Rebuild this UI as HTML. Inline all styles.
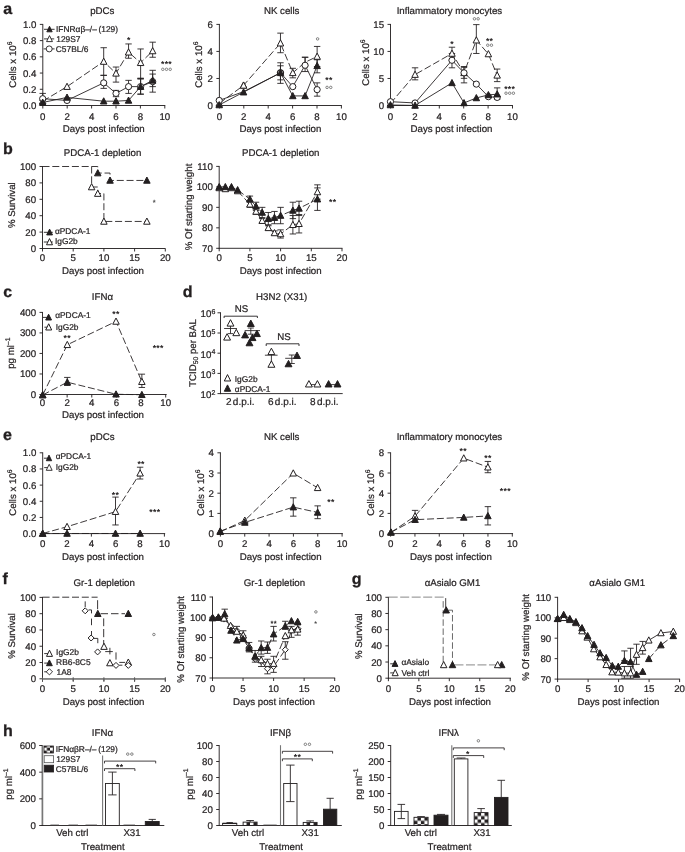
<!DOCTYPE html>
<html><head><meta charset="utf-8"><title>Figure</title>
<style>
html,body{margin:0;padding:0;background:#fff;}
svg{display:block;font-family:"Liberation Sans",sans-serif;text-rendering:geometricPrecision;will-change:transform;}
</style></head>
<body>
<svg width="685" height="852" viewBox="0 0 685 852">
<rect width="685" height="852" fill="#fff"/>
<text x="3.20" y="14.00" font-size="16" text-anchor="start" font-weight="bold" fill="#231f20" stroke="#231f20" stroke-width="0.3">a</text>
<text x="3.00" y="153.80" font-size="16" text-anchor="start" font-weight="bold" fill="#231f20" stroke="#231f20" stroke-width="0.3">b</text>
<text x="3.25" y="296.90" font-size="16" text-anchor="start" font-weight="bold" fill="#231f20" stroke="#231f20" stroke-width="0.3">c</text>
<text x="182.80" y="297.20" font-size="16" text-anchor="start" font-weight="bold" fill="#231f20" stroke="#231f20" stroke-width="0.3">d</text>
<text x="3.10" y="439.90" font-size="16" text-anchor="start" font-weight="bold" fill="#231f20" stroke="#231f20" stroke-width="0.3">e</text>
<text x="2.60" y="583.80" font-size="16" text-anchor="start" font-weight="bold" fill="#231f20" stroke="#231f20" stroke-width="0.3">f</text>
<text x="351.80" y="583.80" font-size="16" text-anchor="start" font-weight="bold" fill="#231f20" stroke="#231f20" stroke-width="0.3">g</text>
<text x="2.90" y="735.80" font-size="16" text-anchor="start" font-weight="bold" fill="#231f20" stroke="#231f20" stroke-width="0.3">h</text>
<line x1="42.80" y1="23.95" x2="42.80" y2="105.95" stroke="#231f20" stroke-width="0.92" stroke-linecap="butt"/>
<line x1="42.35" y1="105.50" x2="165.25" y2="105.50" stroke="#231f20" stroke-width="0.92" stroke-linecap="butt"/>
<line x1="42.80" y1="105.50" x2="42.80" y2="108.50" stroke="#231f20" stroke-width="0.92" stroke-linecap="butt"/>
<text x="42.80" y="119.50" font-size="9.7" text-anchor="middle" font-weight="normal" fill="#231f20" stroke="#231f20" stroke-width="0.22">0</text>
<line x1="67.20" y1="105.50" x2="67.20" y2="108.50" stroke="#231f20" stroke-width="0.92" stroke-linecap="butt"/>
<text x="67.20" y="119.50" font-size="9.7" text-anchor="middle" font-weight="normal" fill="#231f20" stroke="#231f20" stroke-width="0.22">2</text>
<line x1="91.60" y1="105.50" x2="91.60" y2="108.50" stroke="#231f20" stroke-width="0.92" stroke-linecap="butt"/>
<text x="91.60" y="119.50" font-size="9.7" text-anchor="middle" font-weight="normal" fill="#231f20" stroke="#231f20" stroke-width="0.22">4</text>
<line x1="116.00" y1="105.50" x2="116.00" y2="108.50" stroke="#231f20" stroke-width="0.92" stroke-linecap="butt"/>
<text x="116.00" y="119.50" font-size="9.7" text-anchor="middle" font-weight="normal" fill="#231f20" stroke="#231f20" stroke-width="0.22">6</text>
<line x1="140.40" y1="105.50" x2="140.40" y2="108.50" stroke="#231f20" stroke-width="0.92" stroke-linecap="butt"/>
<text x="140.40" y="119.50" font-size="9.7" text-anchor="middle" font-weight="normal" fill="#231f20" stroke="#231f20" stroke-width="0.22">8</text>
<line x1="164.80" y1="105.50" x2="164.80" y2="108.50" stroke="#231f20" stroke-width="0.92" stroke-linecap="butt"/>
<text x="164.80" y="119.50" font-size="9.7" text-anchor="middle" font-weight="normal" fill="#231f20" stroke="#231f20" stroke-width="0.22">10</text>
<line x1="39.80" y1="105.50" x2="42.80" y2="105.50" stroke="#231f20" stroke-width="0.92" stroke-linecap="butt"/>
<text x="36.40" y="109.00" font-size="9.7" text-anchor="end" font-weight="normal" fill="#231f20" stroke="#231f20" stroke-width="0.22">0.0</text>
<line x1="39.80" y1="89.28" x2="42.80" y2="89.28" stroke="#231f20" stroke-width="0.92" stroke-linecap="butt"/>
<text x="36.40" y="92.78" font-size="9.7" text-anchor="end" font-weight="normal" fill="#231f20" stroke="#231f20" stroke-width="0.22">0.2</text>
<line x1="39.80" y1="73.06" x2="42.80" y2="73.06" stroke="#231f20" stroke-width="0.92" stroke-linecap="butt"/>
<text x="36.40" y="76.56" font-size="9.7" text-anchor="end" font-weight="normal" fill="#231f20" stroke="#231f20" stroke-width="0.22">0.4</text>
<line x1="39.80" y1="56.84" x2="42.80" y2="56.84" stroke="#231f20" stroke-width="0.92" stroke-linecap="butt"/>
<text x="36.40" y="60.34" font-size="9.7" text-anchor="end" font-weight="normal" fill="#231f20" stroke="#231f20" stroke-width="0.22">0.6</text>
<line x1="39.80" y1="40.62" x2="42.80" y2="40.62" stroke="#231f20" stroke-width="0.92" stroke-linecap="butt"/>
<text x="36.40" y="44.12" font-size="9.7" text-anchor="end" font-weight="normal" fill="#231f20" stroke="#231f20" stroke-width="0.22">0.8</text>
<line x1="39.80" y1="24.40" x2="42.80" y2="24.40" stroke="#231f20" stroke-width="0.92" stroke-linecap="butt"/>
<text x="36.40" y="27.90" font-size="9.7" text-anchor="end" font-weight="normal" fill="#231f20" stroke="#231f20" stroke-width="0.22">1.0</text>
<text x="102.30" y="14.00" font-size="9.7" text-anchor="middle" font-weight="normal" fill="#231f20" stroke="#231f20" stroke-width="0.22">pDCs</text>
<text x="103.80" y="132.10" font-size="9.7" text-anchor="middle" font-weight="normal" fill="#231f20" stroke="#231f20" stroke-width="0.22">Days post infection</text>
<text x="16.20" y="64.70" font-size="9.7" text-anchor="middle" font-weight="normal" fill="#231f20" stroke="#231f20" stroke-width="0.22" transform="rotate(-90 16.20 64.70)">Cells x 10<tspan font-size="6.8" dy="-3.8">6</tspan></text>
<polyline points="42.69,101.19 67.04,86.63 103.70,61.52 116.01,73.32 128.56,52.23 140.61,62.77 152.67,50.97" fill="none" stroke="#231f20" stroke-width="0.88" stroke-dasharray="7 2.8"/>
<polyline points="42.69,98.68 67.04,100.44 103.70,82.86 116.01,93.41 128.56,86.63 140.61,86.63 152.67,81.61" fill="none" stroke="#231f20" stroke-width="0.88"/>
<polyline points="42.69,102.45 67.04,97.42 103.70,101.19 116.01,101.19 128.56,100.44 140.61,86.63 152.67,80.35" fill="none" stroke="#231f20" stroke-width="0.88"/>
<line x1="103.70" y1="47.71" x2="103.70" y2="75.33" stroke="#231f20" stroke-width="0.88" stroke-linecap="butt"/>
<line x1="100.50" y1="47.71" x2="106.90" y2="47.71" stroke="#231f20" stroke-width="0.88" stroke-linecap="butt"/>
<line x1="100.50" y1="75.33" x2="106.90" y2="75.33" stroke="#231f20" stroke-width="0.88" stroke-linecap="butt"/>
<line x1="116.01" y1="67.04" x2="116.01" y2="82.11" stroke="#231f20" stroke-width="0.88" stroke-linecap="butt"/>
<line x1="112.81" y1="67.04" x2="119.21" y2="67.04" stroke="#231f20" stroke-width="0.88" stroke-linecap="butt"/>
<line x1="112.81" y1="82.11" x2="119.21" y2="82.11" stroke="#231f20" stroke-width="0.88" stroke-linecap="butt"/>
<line x1="128.56" y1="43.94" x2="128.56" y2="58.25" stroke="#231f20" stroke-width="0.88" stroke-linecap="butt"/>
<line x1="125.36" y1="43.94" x2="131.76" y2="43.94" stroke="#231f20" stroke-width="0.88" stroke-linecap="butt"/>
<line x1="125.36" y1="58.25" x2="131.76" y2="58.25" stroke="#231f20" stroke-width="0.88" stroke-linecap="butt"/>
<line x1="140.61" y1="48.96" x2="140.61" y2="79.09" stroke="#231f20" stroke-width="0.88" stroke-linecap="butt"/>
<line x1="137.41" y1="48.96" x2="143.81" y2="48.96" stroke="#231f20" stroke-width="0.88" stroke-linecap="butt"/>
<line x1="137.41" y1="79.09" x2="143.81" y2="79.09" stroke="#231f20" stroke-width="0.88" stroke-linecap="butt"/>
<line x1="152.67" y1="42.18" x2="152.67" y2="57.25" stroke="#231f20" stroke-width="0.88" stroke-linecap="butt"/>
<line x1="149.47" y1="42.18" x2="155.87" y2="42.18" stroke="#231f20" stroke-width="0.88" stroke-linecap="butt"/>
<line x1="149.47" y1="57.25" x2="155.87" y2="57.25" stroke="#231f20" stroke-width="0.88" stroke-linecap="butt"/>
<line x1="42.69" y1="93.41" x2="42.69" y2="100.44" stroke="#231f20" stroke-width="0.88" stroke-linecap="butt"/>
<line x1="39.49" y1="93.41" x2="45.89" y2="93.41" stroke="#231f20" stroke-width="0.88" stroke-linecap="butt"/>
<line x1="39.49" y1="100.44" x2="45.89" y2="100.44" stroke="#231f20" stroke-width="0.88" stroke-linecap="butt"/>
<line x1="103.70" y1="75.33" x2="103.70" y2="88.39" stroke="#231f20" stroke-width="0.88" stroke-linecap="butt"/>
<line x1="100.50" y1="75.33" x2="106.90" y2="75.33" stroke="#231f20" stroke-width="0.88" stroke-linecap="butt"/>
<line x1="100.50" y1="88.39" x2="106.90" y2="88.39" stroke="#231f20" stroke-width="0.88" stroke-linecap="butt"/>
<line x1="116.01" y1="90.39" x2="116.01" y2="96.67" stroke="#231f20" stroke-width="0.88" stroke-linecap="butt"/>
<line x1="112.81" y1="90.39" x2="119.21" y2="90.39" stroke="#231f20" stroke-width="0.88" stroke-linecap="butt"/>
<line x1="112.81" y1="96.67" x2="119.21" y2="96.67" stroke="#231f20" stroke-width="0.88" stroke-linecap="butt"/>
<line x1="128.56" y1="80.35" x2="128.56" y2="93.41" stroke="#231f20" stroke-width="0.88" stroke-linecap="butt"/>
<line x1="125.36" y1="80.35" x2="131.76" y2="80.35" stroke="#231f20" stroke-width="0.88" stroke-linecap="butt"/>
<line x1="125.36" y1="93.41" x2="131.76" y2="93.41" stroke="#231f20" stroke-width="0.88" stroke-linecap="butt"/>
<line x1="140.61" y1="78.34" x2="140.61" y2="94.16" stroke="#231f20" stroke-width="0.88" stroke-linecap="butt"/>
<line x1="137.41" y1="78.34" x2="143.81" y2="78.34" stroke="#231f20" stroke-width="0.88" stroke-linecap="butt"/>
<line x1="137.41" y1="94.16" x2="143.81" y2="94.16" stroke="#231f20" stroke-width="0.88" stroke-linecap="butt"/>
<line x1="152.67" y1="70.31" x2="152.67" y2="92.15" stroke="#231f20" stroke-width="0.88" stroke-linecap="butt"/>
<line x1="149.47" y1="70.31" x2="155.87" y2="70.31" stroke="#231f20" stroke-width="0.88" stroke-linecap="butt"/>
<line x1="149.47" y1="92.15" x2="155.87" y2="92.15" stroke="#231f20" stroke-width="0.88" stroke-linecap="butt"/>
<line x1="140.61" y1="78.34" x2="140.61" y2="94.16" stroke="#231f20" stroke-width="0.88" stroke-linecap="butt"/>
<line x1="137.41" y1="78.34" x2="143.81" y2="78.34" stroke="#231f20" stroke-width="0.88" stroke-linecap="butt"/>
<line x1="137.41" y1="94.16" x2="143.81" y2="94.16" stroke="#231f20" stroke-width="0.88" stroke-linecap="butt"/>
<line x1="152.67" y1="74.07" x2="152.67" y2="86.63" stroke="#231f20" stroke-width="0.88" stroke-linecap="butt"/>
<line x1="149.47" y1="74.07" x2="155.87" y2="74.07" stroke="#231f20" stroke-width="0.88" stroke-linecap="butt"/>
<line x1="149.47" y1="86.63" x2="155.87" y2="86.63" stroke="#231f20" stroke-width="0.88" stroke-linecap="butt"/>
<polygon points="42.69,97.78 45.94,103.98 39.44,103.98" fill="#fff" stroke="#231f20" stroke-width="1.0" stroke-linejoin="miter"/>
<polygon points="67.04,83.22 70.29,89.42 63.79,89.42" fill="#fff" stroke="#231f20" stroke-width="1.0" stroke-linejoin="miter"/>
<polygon points="103.70,58.11 106.95,64.31 100.45,64.31" fill="#fff" stroke="#231f20" stroke-width="1.0" stroke-linejoin="miter"/>
<polygon points="116.01,69.91 119.26,76.11 112.76,76.11" fill="#fff" stroke="#231f20" stroke-width="1.0" stroke-linejoin="miter"/>
<polygon points="128.56,48.82 131.81,55.02 125.31,55.02" fill="#fff" stroke="#231f20" stroke-width="1.0" stroke-linejoin="miter"/>
<polygon points="140.61,59.36 143.86,65.56 137.36,65.56" fill="#fff" stroke="#231f20" stroke-width="1.0" stroke-linejoin="miter"/>
<polygon points="152.67,47.56 155.92,53.76 149.42,53.76" fill="#fff" stroke="#231f20" stroke-width="1.0" stroke-linejoin="miter"/>
<circle cx="42.69" cy="98.68" r="3.1" fill="#fff" stroke="#231f20" stroke-width="1.0"/>
<circle cx="67.04" cy="100.44" r="3.1" fill="#fff" stroke="#231f20" stroke-width="1.0"/>
<circle cx="103.70" cy="82.86" r="3.1" fill="#fff" stroke="#231f20" stroke-width="1.0"/>
<circle cx="116.01" cy="93.41" r="3.1" fill="#fff" stroke="#231f20" stroke-width="1.0"/>
<circle cx="128.56" cy="86.63" r="3.1" fill="#fff" stroke="#231f20" stroke-width="1.0"/>
<circle cx="140.61" cy="86.63" r="3.1" fill="#fff" stroke="#231f20" stroke-width="1.0"/>
<circle cx="152.67" cy="81.61" r="3.1" fill="#fff" stroke="#231f20" stroke-width="1.0"/>
<polygon points="42.69,99.04 45.94,105.24 39.44,105.24" fill="#231f20" stroke="#231f20" stroke-width="1.0" stroke-linejoin="miter"/>
<polygon points="67.04,94.01 70.29,100.21 63.79,100.21" fill="#231f20" stroke="#231f20" stroke-width="1.0" stroke-linejoin="miter"/>
<polygon points="103.70,97.78 106.95,103.98 100.45,103.98" fill="#231f20" stroke="#231f20" stroke-width="1.0" stroke-linejoin="miter"/>
<polygon points="116.01,97.78 119.26,103.98 112.76,103.98" fill="#231f20" stroke="#231f20" stroke-width="1.0" stroke-linejoin="miter"/>
<polygon points="128.56,97.03 131.81,103.23 125.31,103.23" fill="#231f20" stroke="#231f20" stroke-width="1.0" stroke-linejoin="miter"/>
<polygon points="140.61,83.22 143.86,89.42 137.36,89.42" fill="#231f20" stroke="#231f20" stroke-width="1.0" stroke-linejoin="miter"/>
<polygon points="152.67,76.94 155.92,83.14 149.42,83.14" fill="#231f20" stroke="#231f20" stroke-width="1.0" stroke-linejoin="miter"/>
<line x1="44.00" y1="29.30" x2="54.60" y2="29.30" stroke="#231f20" stroke-width="0.9" stroke-linecap="butt"/>
<polygon points="49.50,26.22 52.20,31.82 46.80,31.82" fill="#231f20" stroke="#231f20" stroke-width="0.9" stroke-linejoin="miter"/>
<text x="56.00" y="32.40" font-size="8.4" text-anchor="start" font-weight="normal" fill="#231f20" stroke="#231f20" stroke-width="0.22">IFNRαβ–/– (129)</text>
<line x1="44.00" y1="38.90" x2="54.20" y2="38.90" stroke="#231f20" stroke-width="0.9" stroke-linecap="butt"/>
<polygon points="49.50,35.60 52.45,41.60 46.55,41.60" fill="#fff" stroke="#231f20" stroke-width="0.9" stroke-linejoin="miter"/>
<text x="56.30" y="42.00" font-size="8.4" text-anchor="start" font-weight="normal" fill="#231f20" stroke="#231f20" stroke-width="0.22">129S7</text>
<line x1="43.60" y1="48.90" x2="54.60" y2="48.90" stroke="#231f20" stroke-width="0.9" stroke-linecap="butt"/>
<circle cx="49.20" cy="48.90" r="3.0" fill="#fff" stroke="#231f20" stroke-width="0.9"/>
<text x="55.80" y="52.00" font-size="8.4" text-anchor="start" font-weight="normal" fill="#231f20" stroke="#231f20" stroke-width="0.22">C57BL/6</text>
<text x="128.80" y="43.23" font-size="8.6" text-anchor="middle" font-weight="bold" fill="#231f20" letter-spacing="0.35">*</text>
<text x="166.50" y="66.73" font-size="8.6" text-anchor="middle" font-weight="bold" fill="#231f20" letter-spacing="0.35">***</text>
<circle cx="162.80" cy="69.30" r="1.25" fill="none" stroke="#666" stroke-width="0.8"/>
<circle cx="166.50" cy="69.30" r="1.25" fill="none" stroke="#666" stroke-width="0.8"/>
<circle cx="170.20" cy="69.30" r="1.25" fill="none" stroke="#666" stroke-width="0.8"/>
<line x1="219.40" y1="23.95" x2="219.40" y2="105.95" stroke="#231f20" stroke-width="0.92" stroke-linecap="butt"/>
<line x1="218.95" y1="105.50" x2="341.85" y2="105.50" stroke="#231f20" stroke-width="0.92" stroke-linecap="butt"/>
<line x1="219.40" y1="105.50" x2="219.40" y2="108.50" stroke="#231f20" stroke-width="0.92" stroke-linecap="butt"/>
<text x="219.40" y="119.50" font-size="9.7" text-anchor="middle" font-weight="normal" fill="#231f20" stroke="#231f20" stroke-width="0.22">0</text>
<line x1="243.80" y1="105.50" x2="243.80" y2="108.50" stroke="#231f20" stroke-width="0.92" stroke-linecap="butt"/>
<text x="243.80" y="119.50" font-size="9.7" text-anchor="middle" font-weight="normal" fill="#231f20" stroke="#231f20" stroke-width="0.22">2</text>
<line x1="268.20" y1="105.50" x2="268.20" y2="108.50" stroke="#231f20" stroke-width="0.92" stroke-linecap="butt"/>
<text x="268.20" y="119.50" font-size="9.7" text-anchor="middle" font-weight="normal" fill="#231f20" stroke="#231f20" stroke-width="0.22">4</text>
<line x1="292.60" y1="105.50" x2="292.60" y2="108.50" stroke="#231f20" stroke-width="0.92" stroke-linecap="butt"/>
<text x="292.60" y="119.50" font-size="9.7" text-anchor="middle" font-weight="normal" fill="#231f20" stroke="#231f20" stroke-width="0.22">6</text>
<line x1="317.00" y1="105.50" x2="317.00" y2="108.50" stroke="#231f20" stroke-width="0.92" stroke-linecap="butt"/>
<text x="317.00" y="119.50" font-size="9.7" text-anchor="middle" font-weight="normal" fill="#231f20" stroke="#231f20" stroke-width="0.22">8</text>
<line x1="341.40" y1="105.50" x2="341.40" y2="108.50" stroke="#231f20" stroke-width="0.92" stroke-linecap="butt"/>
<text x="341.40" y="119.50" font-size="9.7" text-anchor="middle" font-weight="normal" fill="#231f20" stroke="#231f20" stroke-width="0.22">10</text>
<line x1="216.40" y1="105.50" x2="219.40" y2="105.50" stroke="#231f20" stroke-width="0.92" stroke-linecap="butt"/>
<text x="213.00" y="109.00" font-size="9.7" text-anchor="end" font-weight="normal" fill="#231f20" stroke="#231f20" stroke-width="0.22">0</text>
<line x1="216.40" y1="78.47" x2="219.40" y2="78.47" stroke="#231f20" stroke-width="0.92" stroke-linecap="butt"/>
<text x="213.00" y="81.97" font-size="9.7" text-anchor="end" font-weight="normal" fill="#231f20" stroke="#231f20" stroke-width="0.22">2</text>
<line x1="216.40" y1="51.43" x2="219.40" y2="51.43" stroke="#231f20" stroke-width="0.92" stroke-linecap="butt"/>
<text x="213.00" y="54.93" font-size="9.7" text-anchor="end" font-weight="normal" fill="#231f20" stroke="#231f20" stroke-width="0.22">4</text>
<line x1="216.40" y1="24.40" x2="219.40" y2="24.40" stroke="#231f20" stroke-width="0.92" stroke-linecap="butt"/>
<text x="213.00" y="27.90" font-size="9.7" text-anchor="end" font-weight="normal" fill="#231f20" stroke="#231f20" stroke-width="0.22">6</text>
<text x="281.70" y="14.00" font-size="9.7" text-anchor="middle" font-weight="normal" fill="#231f20" stroke="#231f20" stroke-width="0.22">NK cells</text>
<text x="280.40" y="132.10" font-size="9.7" text-anchor="middle" font-weight="normal" fill="#231f20" stroke="#231f20" stroke-width="0.22">Days post infection</text>
<text x="201.70" y="64.70" font-size="9.7" text-anchor="middle" font-weight="normal" fill="#231f20" stroke="#231f20" stroke-width="0.22" transform="rotate(-90 201.70 64.70)">Cells x 10<tspan font-size="6.8" dy="-3.8">6</tspan></text>
<polyline points="219.21,103.45 243.56,85.37 280.47,43.19 292.78,72.82 305.08,62.27 317.13,56.50" fill="none" stroke="#231f20" stroke-width="0.88" stroke-dasharray="7 2.8"/>
<polyline points="219.21,100.44 243.56,91.65 280.47,72.82 292.78,86.63 305.08,65.28 317.13,89.64" fill="none" stroke="#231f20" stroke-width="0.88"/>
<polyline points="219.21,104.96 243.56,92.15 280.47,72.82 292.78,95.92 305.08,95.92 317.13,65.79" fill="none" stroke="#231f20" stroke-width="0.88"/>
<line x1="280.47" y1="33.14" x2="280.47" y2="52.73" stroke="#231f20" stroke-width="0.88" stroke-linecap="butt"/>
<line x1="277.27" y1="33.14" x2="283.67" y2="33.14" stroke="#231f20" stroke-width="0.88" stroke-linecap="butt"/>
<line x1="277.27" y1="52.73" x2="283.67" y2="52.73" stroke="#231f20" stroke-width="0.88" stroke-linecap="butt"/>
<line x1="292.78" y1="68.30" x2="292.78" y2="77.84" stroke="#231f20" stroke-width="0.88" stroke-linecap="butt"/>
<line x1="289.58" y1="68.30" x2="295.98" y2="68.30" stroke="#231f20" stroke-width="0.88" stroke-linecap="butt"/>
<line x1="289.58" y1="77.84" x2="295.98" y2="77.84" stroke="#231f20" stroke-width="0.88" stroke-linecap="butt"/>
<line x1="305.08" y1="57.25" x2="305.08" y2="65.79" stroke="#231f20" stroke-width="0.88" stroke-linecap="butt"/>
<line x1="301.88" y1="57.25" x2="308.28" y2="57.25" stroke="#231f20" stroke-width="0.88" stroke-linecap="butt"/>
<line x1="301.88" y1="65.79" x2="308.28" y2="65.79" stroke="#231f20" stroke-width="0.88" stroke-linecap="butt"/>
<line x1="317.13" y1="46.45" x2="317.13" y2="66.54" stroke="#231f20" stroke-width="0.88" stroke-linecap="butt"/>
<line x1="313.93" y1="46.45" x2="320.33" y2="46.45" stroke="#231f20" stroke-width="0.88" stroke-linecap="butt"/>
<line x1="313.93" y1="66.54" x2="320.33" y2="66.54" stroke="#231f20" stroke-width="0.88" stroke-linecap="butt"/>
<line x1="280.47" y1="62.77" x2="280.47" y2="83.36" stroke="#231f20" stroke-width="0.88" stroke-linecap="butt"/>
<line x1="277.27" y1="62.77" x2="283.67" y2="62.77" stroke="#231f20" stroke-width="0.88" stroke-linecap="butt"/>
<line x1="277.27" y1="83.36" x2="283.67" y2="83.36" stroke="#231f20" stroke-width="0.88" stroke-linecap="butt"/>
<line x1="305.08" y1="57.25" x2="305.08" y2="71.56" stroke="#231f20" stroke-width="0.88" stroke-linecap="butt"/>
<line x1="301.88" y1="57.25" x2="308.28" y2="57.25" stroke="#231f20" stroke-width="0.88" stroke-linecap="butt"/>
<line x1="301.88" y1="71.56" x2="308.28" y2="71.56" stroke="#231f20" stroke-width="0.88" stroke-linecap="butt"/>
<line x1="317.13" y1="82.86" x2="317.13" y2="96.17" stroke="#231f20" stroke-width="0.88" stroke-linecap="butt"/>
<line x1="313.93" y1="82.86" x2="320.33" y2="82.86" stroke="#231f20" stroke-width="0.88" stroke-linecap="butt"/>
<line x1="313.93" y1="96.17" x2="320.33" y2="96.17" stroke="#231f20" stroke-width="0.88" stroke-linecap="butt"/>
<line x1="280.47" y1="65.79" x2="280.47" y2="79.85" stroke="#231f20" stroke-width="0.88" stroke-linecap="butt"/>
<line x1="277.27" y1="65.79" x2="283.67" y2="65.79" stroke="#231f20" stroke-width="0.88" stroke-linecap="butt"/>
<line x1="277.27" y1="79.85" x2="283.67" y2="79.85" stroke="#231f20" stroke-width="0.88" stroke-linecap="butt"/>
<line x1="317.13" y1="59.76" x2="317.13" y2="72.82" stroke="#231f20" stroke-width="0.88" stroke-linecap="butt"/>
<line x1="313.93" y1="59.76" x2="320.33" y2="59.76" stroke="#231f20" stroke-width="0.88" stroke-linecap="butt"/>
<line x1="313.93" y1="72.82" x2="320.33" y2="72.82" stroke="#231f20" stroke-width="0.88" stroke-linecap="butt"/>
<polygon points="219.21,100.04 222.46,106.24 215.96,106.24" fill="#fff" stroke="#231f20" stroke-width="1.0" stroke-linejoin="miter"/>
<polygon points="243.56,81.96 246.81,88.16 240.31,88.16" fill="#fff" stroke="#231f20" stroke-width="1.0" stroke-linejoin="miter"/>
<polygon points="280.47,39.78 283.72,45.98 277.22,45.98" fill="#fff" stroke="#231f20" stroke-width="1.0" stroke-linejoin="miter"/>
<polygon points="292.78,69.41 296.03,75.61 289.53,75.61" fill="#fff" stroke="#231f20" stroke-width="1.0" stroke-linejoin="miter"/>
<polygon points="317.13,53.09 320.38,59.29 313.88,59.29" fill="#fff" stroke="#231f20" stroke-width="1.0" stroke-linejoin="miter"/>
<circle cx="219.21" cy="100.44" r="3.1" fill="#fff" stroke="#231f20" stroke-width="1.0"/>
<circle cx="280.47" cy="72.82" r="3.1" fill="#fff" stroke="#231f20" stroke-width="1.0"/>
<circle cx="292.78" cy="86.63" r="3.1" fill="#fff" stroke="#231f20" stroke-width="1.0"/>
<circle cx="305.08" cy="65.28" r="3.1" fill="#fff" stroke="#231f20" stroke-width="1.0"/>
<circle cx="317.13" cy="89.64" r="3.1" fill="#fff" stroke="#231f20" stroke-width="1.0"/>
<polygon points="243.56,88.74 246.81,94.94 240.31,94.94" fill="#231f20" stroke="#231f20" stroke-width="1.0" stroke-linejoin="miter"/>
<polygon points="243.56,81.96 246.81,88.16 240.31,88.16" fill="#fff" stroke="#231f20" stroke-width="1.0" stroke-linejoin="miter"/>
<polygon points="219.21,101.55 222.46,107.75 215.96,107.75" fill="#231f20" stroke="#231f20" stroke-width="1.0" stroke-linejoin="miter"/>
<polygon points="280.47,69.41 283.72,75.61 277.22,75.61" fill="#231f20" stroke="#231f20" stroke-width="1.0" stroke-linejoin="miter"/>
<polygon points="292.78,92.51 296.03,98.71 289.53,98.71" fill="#231f20" stroke="#231f20" stroke-width="1.0" stroke-linejoin="miter"/>
<polygon points="305.08,92.51 308.33,98.71 301.83,98.71" fill="#231f20" stroke="#231f20" stroke-width="1.0" stroke-linejoin="miter"/>
<polygon points="317.13,62.38 320.38,68.58 313.88,68.58" fill="#231f20" stroke="#231f20" stroke-width="1.0" stroke-linejoin="miter"/>
<circle cx="280.47" cy="72.82" r="3.1" fill="none" stroke="#231f20" stroke-width="1.0"/>
<circle cx="317.60" cy="38.90" r="1.25" fill="none" stroke="#666" stroke-width="0.8"/>
<text x="328.90" y="82.73" font-size="8.6" text-anchor="middle" font-weight="bold" fill="#231f20" letter-spacing="0.35">**</text>
<circle cx="327.05" cy="87.40" r="1.25" fill="none" stroke="#666" stroke-width="0.8"/>
<circle cx="330.75" cy="87.40" r="1.25" fill="none" stroke="#666" stroke-width="0.8"/>
<line x1="390.50" y1="23.95" x2="390.50" y2="105.95" stroke="#231f20" stroke-width="0.92" stroke-linecap="butt"/>
<line x1="390.05" y1="105.50" x2="512.95" y2="105.50" stroke="#231f20" stroke-width="0.92" stroke-linecap="butt"/>
<line x1="390.50" y1="105.50" x2="390.50" y2="108.50" stroke="#231f20" stroke-width="0.92" stroke-linecap="butt"/>
<text x="390.50" y="119.50" font-size="9.7" text-anchor="middle" font-weight="normal" fill="#231f20" stroke="#231f20" stroke-width="0.22">0</text>
<line x1="414.90" y1="105.50" x2="414.90" y2="108.50" stroke="#231f20" stroke-width="0.92" stroke-linecap="butt"/>
<text x="414.90" y="119.50" font-size="9.7" text-anchor="middle" font-weight="normal" fill="#231f20" stroke="#231f20" stroke-width="0.22">2</text>
<line x1="439.30" y1="105.50" x2="439.30" y2="108.50" stroke="#231f20" stroke-width="0.92" stroke-linecap="butt"/>
<text x="439.30" y="119.50" font-size="9.7" text-anchor="middle" font-weight="normal" fill="#231f20" stroke="#231f20" stroke-width="0.22">4</text>
<line x1="463.70" y1="105.50" x2="463.70" y2="108.50" stroke="#231f20" stroke-width="0.92" stroke-linecap="butt"/>
<text x="463.70" y="119.50" font-size="9.7" text-anchor="middle" font-weight="normal" fill="#231f20" stroke="#231f20" stroke-width="0.22">6</text>
<line x1="488.10" y1="105.50" x2="488.10" y2="108.50" stroke="#231f20" stroke-width="0.92" stroke-linecap="butt"/>
<text x="488.10" y="119.50" font-size="9.7" text-anchor="middle" font-weight="normal" fill="#231f20" stroke="#231f20" stroke-width="0.22">8</text>
<line x1="512.50" y1="105.50" x2="512.50" y2="108.50" stroke="#231f20" stroke-width="0.92" stroke-linecap="butt"/>
<text x="512.50" y="119.50" font-size="9.7" text-anchor="middle" font-weight="normal" fill="#231f20" stroke="#231f20" stroke-width="0.22">10</text>
<line x1="387.50" y1="105.50" x2="390.50" y2="105.50" stroke="#231f20" stroke-width="0.92" stroke-linecap="butt"/>
<text x="384.10" y="109.00" font-size="9.7" text-anchor="end" font-weight="normal" fill="#231f20" stroke="#231f20" stroke-width="0.22">0</text>
<line x1="387.50" y1="78.47" x2="390.50" y2="78.47" stroke="#231f20" stroke-width="0.92" stroke-linecap="butt"/>
<text x="384.10" y="81.97" font-size="9.7" text-anchor="end" font-weight="normal" fill="#231f20" stroke="#231f20" stroke-width="0.22">5</text>
<line x1="387.50" y1="51.43" x2="390.50" y2="51.43" stroke="#231f20" stroke-width="0.92" stroke-linecap="butt"/>
<text x="384.10" y="54.93" font-size="9.7" text-anchor="end" font-weight="normal" fill="#231f20" stroke="#231f20" stroke-width="0.22">10</text>
<line x1="387.50" y1="24.40" x2="390.50" y2="24.40" stroke="#231f20" stroke-width="0.92" stroke-linecap="butt"/>
<text x="384.10" y="27.90" font-size="9.7" text-anchor="end" font-weight="normal" fill="#231f20" stroke="#231f20" stroke-width="0.22">15</text>
<text x="449.40" y="14.00" font-size="9.7" text-anchor="middle" font-weight="normal" fill="#231f20" stroke="#231f20" stroke-width="0.22">Inflammatory monocytes</text>
<text x="451.50" y="132.10" font-size="9.7" text-anchor="middle" font-weight="normal" fill="#231f20" stroke="#231f20" stroke-width="0.22">Days post infection</text>
<text x="368.80" y="62.50" font-size="9.7" text-anchor="middle" font-weight="normal" fill="#231f20" stroke="#231f20" stroke-width="0.22" transform="rotate(-90 368.80 62.50)">Cells x 10<tspan font-size="6.8" dy="-3.8">6</tspan></text>
<polyline points="390.45,103.45 415.06,74.58 451.97,53.48 464.02,72.82 476.33,40.18 488.38,53.99 497.17,75.33" fill="none" stroke="#231f20" stroke-width="0.88" stroke-dasharray="7 2.8"/>
<polyline points="390.45,101.69 415.06,102.95 451.97,60.26 464.02,72.82 476.33,84.12 488.38,96.67 497.17,97.42" fill="none" stroke="#231f20" stroke-width="0.88"/>
<polyline points="390.45,104.96 415.06,105.46 451.97,82.86 464.02,102.95 476.33,97.93 488.38,94.91 497.17,94.16" fill="none" stroke="#231f20" stroke-width="0.88"/>
<line x1="415.06" y1="67.80" x2="415.06" y2="79.85" stroke="#231f20" stroke-width="0.88" stroke-linecap="butt"/>
<line x1="411.86" y1="67.80" x2="418.26" y2="67.80" stroke="#231f20" stroke-width="0.88" stroke-linecap="butt"/>
<line x1="411.86" y1="79.85" x2="418.26" y2="79.85" stroke="#231f20" stroke-width="0.88" stroke-linecap="butt"/>
<line x1="451.97" y1="47.21" x2="451.97" y2="60.26" stroke="#231f20" stroke-width="0.88" stroke-linecap="butt"/>
<line x1="448.77" y1="47.21" x2="455.17" y2="47.21" stroke="#231f20" stroke-width="0.88" stroke-linecap="butt"/>
<line x1="448.77" y1="60.26" x2="455.17" y2="60.26" stroke="#231f20" stroke-width="0.88" stroke-linecap="butt"/>
<line x1="464.02" y1="66.54" x2="464.02" y2="82.86" stroke="#231f20" stroke-width="0.88" stroke-linecap="butt"/>
<line x1="460.82" y1="66.54" x2="467.22" y2="66.54" stroke="#231f20" stroke-width="0.88" stroke-linecap="butt"/>
<line x1="460.82" y1="82.86" x2="467.22" y2="82.86" stroke="#231f20" stroke-width="0.88" stroke-linecap="butt"/>
<line x1="476.33" y1="24.61" x2="476.33" y2="53.48" stroke="#231f20" stroke-width="0.88" stroke-linecap="butt"/>
<line x1="473.13" y1="24.61" x2="479.53" y2="24.61" stroke="#231f20" stroke-width="0.88" stroke-linecap="butt"/>
<line x1="473.13" y1="53.48" x2="479.53" y2="53.48" stroke="#231f20" stroke-width="0.88" stroke-linecap="butt"/>
<line x1="497.17" y1="69.05" x2="497.17" y2="81.61" stroke="#231f20" stroke-width="0.88" stroke-linecap="butt"/>
<line x1="493.97" y1="69.05" x2="500.37" y2="69.05" stroke="#231f20" stroke-width="0.88" stroke-linecap="butt"/>
<line x1="493.97" y1="81.61" x2="500.37" y2="81.61" stroke="#231f20" stroke-width="0.88" stroke-linecap="butt"/>
<line x1="451.97" y1="53.48" x2="451.97" y2="67.80" stroke="#231f20" stroke-width="0.88" stroke-linecap="butt"/>
<line x1="448.77" y1="53.48" x2="455.17" y2="53.48" stroke="#231f20" stroke-width="0.88" stroke-linecap="butt"/>
<line x1="448.77" y1="67.80" x2="455.17" y2="67.80" stroke="#231f20" stroke-width="0.88" stroke-linecap="butt"/>
<line x1="464.02" y1="67.29" x2="464.02" y2="78.34" stroke="#231f20" stroke-width="0.88" stroke-linecap="butt"/>
<line x1="460.82" y1="67.29" x2="467.22" y2="67.29" stroke="#231f20" stroke-width="0.88" stroke-linecap="butt"/>
<line x1="460.82" y1="78.34" x2="467.22" y2="78.34" stroke="#231f20" stroke-width="0.88" stroke-linecap="butt"/>
<line x1="497.17" y1="87.88" x2="497.17" y2="99.18" stroke="#231f20" stroke-width="0.88" stroke-linecap="butt"/>
<line x1="493.97" y1="87.88" x2="500.37" y2="87.88" stroke="#231f20" stroke-width="0.88" stroke-linecap="butt"/>
<line x1="493.97" y1="99.18" x2="500.37" y2="99.18" stroke="#231f20" stroke-width="0.88" stroke-linecap="butt"/>
<polygon points="390.45,100.04 393.70,106.24 387.20,106.24" fill="#fff" stroke="#231f20" stroke-width="1.0" stroke-linejoin="miter"/>
<polygon points="415.06,71.17 418.31,77.37 411.81,77.37" fill="#fff" stroke="#231f20" stroke-width="1.0" stroke-linejoin="miter"/>
<polygon points="451.97,50.07 455.22,56.27 448.72,56.27" fill="#fff" stroke="#231f20" stroke-width="1.0" stroke-linejoin="miter"/>
<polygon points="464.02,69.41 467.27,75.61 460.77,75.61" fill="#fff" stroke="#231f20" stroke-width="1.0" stroke-linejoin="miter"/>
<polygon points="476.33,36.77 479.58,42.97 473.08,42.97" fill="#fff" stroke="#231f20" stroke-width="1.0" stroke-linejoin="miter"/>
<polygon points="488.38,50.58 491.63,56.78 485.13,56.78" fill="#fff" stroke="#231f20" stroke-width="1.0" stroke-linejoin="miter"/>
<polygon points="497.17,71.92 500.42,78.12 493.92,78.12" fill="#fff" stroke="#231f20" stroke-width="1.0" stroke-linejoin="miter"/>
<circle cx="390.45" cy="101.69" r="3.1" fill="#fff" stroke="#231f20" stroke-width="1.0"/>
<circle cx="415.06" cy="102.95" r="3.1" fill="#fff" stroke="#231f20" stroke-width="1.0"/>
<circle cx="451.97" cy="60.26" r="3.1" fill="#fff" stroke="#231f20" stroke-width="1.0"/>
<circle cx="464.02" cy="72.82" r="3.1" fill="#fff" stroke="#231f20" stroke-width="1.0"/>
<circle cx="476.33" cy="84.12" r="3.1" fill="#fff" stroke="#231f20" stroke-width="1.0"/>
<circle cx="488.38" cy="96.67" r="3.1" fill="#fff" stroke="#231f20" stroke-width="1.0"/>
<circle cx="497.17" cy="97.42" r="3.1" fill="#fff" stroke="#231f20" stroke-width="1.0"/>
<polygon points="390.45,101.55 393.70,107.75 387.20,107.75" fill="#231f20" stroke="#231f20" stroke-width="1.0" stroke-linejoin="miter"/>
<polygon points="415.06,102.05 418.31,108.25 411.81,108.25" fill="#231f20" stroke="#231f20" stroke-width="1.0" stroke-linejoin="miter"/>
<polygon points="451.97,79.45 455.22,85.65 448.72,85.65" fill="#231f20" stroke="#231f20" stroke-width="1.0" stroke-linejoin="miter"/>
<polygon points="464.02,99.54 467.27,105.74 460.77,105.74" fill="#231f20" stroke="#231f20" stroke-width="1.0" stroke-linejoin="miter"/>
<polygon points="476.33,94.52 479.58,100.72 473.08,100.72" fill="#231f20" stroke="#231f20" stroke-width="1.0" stroke-linejoin="miter"/>
<polygon points="488.38,91.50 491.63,97.70 485.13,97.70" fill="#231f20" stroke="#231f20" stroke-width="1.0" stroke-linejoin="miter"/>
<polygon points="497.17,90.75 500.42,96.95 493.92,96.95" fill="#231f20" stroke="#231f20" stroke-width="1.0" stroke-linejoin="miter"/>
<text x="452.00" y="47.23" font-size="8.6" text-anchor="middle" font-weight="bold" fill="#231f20" letter-spacing="0.35">*</text>
<circle cx="474.45" cy="18.80" r="1.25" fill="none" stroke="#666" stroke-width="0.8"/>
<circle cx="478.15" cy="18.80" r="1.25" fill="none" stroke="#666" stroke-width="0.8"/>
<text x="489.60" y="44.23" font-size="8.6" text-anchor="middle" font-weight="bold" fill="#231f20" letter-spacing="0.35">**</text>
<circle cx="487.75" cy="45.20" r="1.25" fill="none" stroke="#666" stroke-width="0.8"/>
<circle cx="491.45" cy="45.20" r="1.25" fill="none" stroke="#666" stroke-width="0.8"/>
<text x="509.70" y="91.93" font-size="8.6" text-anchor="middle" font-weight="bold" fill="#231f20" letter-spacing="0.35">***</text>
<circle cx="506.00" cy="93.20" r="1.25" fill="none" stroke="#666" stroke-width="0.8"/>
<circle cx="509.70" cy="93.20" r="1.25" fill="none" stroke="#666" stroke-width="0.8"/>
<circle cx="513.40" cy="93.20" r="1.25" fill="none" stroke="#666" stroke-width="0.8"/>
<line x1="42.50" y1="166.05" x2="42.50" y2="248.95" stroke="#231f20" stroke-width="0.92" stroke-linecap="butt"/>
<line x1="42.05" y1="248.50" x2="165.45" y2="248.50" stroke="#231f20" stroke-width="0.92" stroke-linecap="butt"/>
<line x1="42.50" y1="248.50" x2="42.50" y2="251.50" stroke="#231f20" stroke-width="0.92" stroke-linecap="butt"/>
<text x="42.50" y="261.20" font-size="9.7" text-anchor="middle" font-weight="normal" fill="#231f20" stroke="#231f20" stroke-width="0.22">0</text>
<line x1="73.20" y1="248.50" x2="73.20" y2="251.50" stroke="#231f20" stroke-width="0.92" stroke-linecap="butt"/>
<text x="73.20" y="261.20" font-size="9.7" text-anchor="middle" font-weight="normal" fill="#231f20" stroke="#231f20" stroke-width="0.22">5</text>
<line x1="103.90" y1="248.50" x2="103.90" y2="251.50" stroke="#231f20" stroke-width="0.92" stroke-linecap="butt"/>
<text x="103.90" y="261.20" font-size="9.7" text-anchor="middle" font-weight="normal" fill="#231f20" stroke="#231f20" stroke-width="0.22">10</text>
<line x1="134.60" y1="248.50" x2="134.60" y2="251.50" stroke="#231f20" stroke-width="0.92" stroke-linecap="butt"/>
<text x="134.60" y="261.20" font-size="9.7" text-anchor="middle" font-weight="normal" fill="#231f20" stroke="#231f20" stroke-width="0.22">15</text>
<line x1="165.30" y1="248.50" x2="165.30" y2="251.50" stroke="#231f20" stroke-width="0.92" stroke-linecap="butt"/>
<text x="165.30" y="261.20" font-size="9.7" text-anchor="middle" font-weight="normal" fill="#231f20" stroke="#231f20" stroke-width="0.22">20</text>
<line x1="39.50" y1="248.50" x2="42.50" y2="248.50" stroke="#231f20" stroke-width="0.92" stroke-linecap="butt"/>
<text x="36.10" y="252.00" font-size="9.7" text-anchor="end" font-weight="normal" fill="#231f20" stroke="#231f20" stroke-width="0.22">0</text>
<line x1="39.50" y1="232.10" x2="42.50" y2="232.10" stroke="#231f20" stroke-width="0.92" stroke-linecap="butt"/>
<text x="36.10" y="235.60" font-size="9.7" text-anchor="end" font-weight="normal" fill="#231f20" stroke="#231f20" stroke-width="0.22">20</text>
<line x1="39.50" y1="215.70" x2="42.50" y2="215.70" stroke="#231f20" stroke-width="0.92" stroke-linecap="butt"/>
<text x="36.10" y="219.20" font-size="9.7" text-anchor="end" font-weight="normal" fill="#231f20" stroke="#231f20" stroke-width="0.22">40</text>
<line x1="39.50" y1="199.30" x2="42.50" y2="199.30" stroke="#231f20" stroke-width="0.92" stroke-linecap="butt"/>
<text x="36.10" y="202.80" font-size="9.7" text-anchor="end" font-weight="normal" fill="#231f20" stroke="#231f20" stroke-width="0.22">60</text>
<line x1="39.50" y1="182.90" x2="42.50" y2="182.90" stroke="#231f20" stroke-width="0.92" stroke-linecap="butt"/>
<text x="36.10" y="186.40" font-size="9.7" text-anchor="end" font-weight="normal" fill="#231f20" stroke="#231f20" stroke-width="0.22">80</text>
<line x1="39.50" y1="166.50" x2="42.50" y2="166.50" stroke="#231f20" stroke-width="0.92" stroke-linecap="butt"/>
<text x="36.10" y="170.00" font-size="9.7" text-anchor="end" font-weight="normal" fill="#231f20" stroke="#231f20" stroke-width="0.22">100</text>
<text x="102.60" y="156.00" font-size="9.7" text-anchor="middle" font-weight="normal" fill="#231f20" stroke="#231f20" stroke-width="0.22">PDCA-1 depletion</text>
<text x="103.00" y="273.50" font-size="9.7" text-anchor="middle" font-weight="normal" fill="#231f20" stroke="#231f20" stroke-width="0.22">Days post infection</text>
<text x="14.70" y="205.20" font-size="9.7" text-anchor="middle" font-weight="normal" fill="#231f20" stroke="#231f20" stroke-width="0.22" transform="rotate(-90 14.70 205.20)">% Survival</text>
<polyline points="42.50,166.50 97.76,166.50 97.76,173.06 110.04,173.06 110.04,180.44 146.88,180.44" fill="none" stroke="#231f20" stroke-width="0.88" stroke-dasharray="7 2.8"/>
<polyline points="91.62,166.50 91.62,187.00 97.76,187.00 97.76,193.56 103.90,193.56 103.90,221.44 146.88,221.44" fill="none" stroke="#231f20" stroke-width="0.88" stroke-dasharray="7 2.8"/>
<polygon points="97.76,169.65 101.01,175.85 94.51,175.85" fill="#231f20" stroke="#231f20" stroke-width="1.0" stroke-linejoin="miter"/>
<polygon points="110.04,177.03 113.29,183.23 106.79,183.23" fill="#231f20" stroke="#231f20" stroke-width="1.0" stroke-linejoin="miter"/>
<polygon points="146.88,177.03 150.13,183.23 143.63,183.23" fill="#231f20" stroke="#231f20" stroke-width="1.0" stroke-linejoin="miter"/>
<polygon points="91.62,183.59 94.87,189.79 88.37,189.79" fill="#fff" stroke="#231f20" stroke-width="1.0" stroke-linejoin="miter"/>
<polygon points="97.76,190.15 101.01,196.35 94.51,196.35" fill="#fff" stroke="#231f20" stroke-width="1.0" stroke-linejoin="miter"/>
<polygon points="103.90,218.03 107.15,224.23 100.65,224.23" fill="#fff" stroke="#231f20" stroke-width="1.0" stroke-linejoin="miter"/>
<polygon points="146.88,218.03 150.13,224.23 143.63,224.23" fill="#fff" stroke="#231f20" stroke-width="1.0" stroke-linejoin="miter"/>
<line x1="43.80" y1="232.30" x2="52.80" y2="232.30" stroke="#231f20" stroke-width="0.9" stroke-linecap="butt"/>
<polygon points="49.60,229.11 52.50,234.91 46.70,234.91" fill="#231f20" stroke="#231f20" stroke-width="1.0" stroke-linejoin="miter"/>
<text x="54.90" y="233.60" font-size="8.4" text-anchor="start" font-weight="normal" fill="#231f20" stroke="#231f20" stroke-width="0.22">αPDCA-1</text>
<line x1="43.80" y1="242.00" x2="52.80" y2="242.00" stroke="#231f20" stroke-width="0.9" stroke-linecap="butt"/>
<polygon points="49.50,238.59 52.50,244.79 46.50,244.79" fill="#fff" stroke="#231f20" stroke-width="1.0" stroke-linejoin="miter"/>
<text x="54.90" y="244.10" font-size="8.4" text-anchor="start" font-weight="normal" fill="#231f20" stroke="#231f20" stroke-width="0.22">IgG2b</text>
<text x="154.40" y="204.93" font-size="7.5" text-anchor="middle" font-weight="bold" fill="#555" letter-spacing="0.35">*</text>
<line x1="219.20" y1="165.95" x2="219.20" y2="248.75" stroke="#231f20" stroke-width="0.92" stroke-linecap="butt"/>
<line x1="218.75" y1="248.30" x2="342.45" y2="248.30" stroke="#231f20" stroke-width="0.92" stroke-linecap="butt"/>
<line x1="219.20" y1="248.30" x2="219.20" y2="251.30" stroke="#231f20" stroke-width="0.92" stroke-linecap="butt"/>
<text x="219.20" y="261.40" font-size="9.7" text-anchor="middle" font-weight="normal" fill="#231f20" stroke="#231f20" stroke-width="0.22">0</text>
<line x1="249.90" y1="248.30" x2="249.90" y2="251.30" stroke="#231f20" stroke-width="0.92" stroke-linecap="butt"/>
<text x="249.90" y="261.40" font-size="9.7" text-anchor="middle" font-weight="normal" fill="#231f20" stroke="#231f20" stroke-width="0.22">5</text>
<line x1="280.60" y1="248.30" x2="280.60" y2="251.30" stroke="#231f20" stroke-width="0.92" stroke-linecap="butt"/>
<text x="280.60" y="261.40" font-size="9.7" text-anchor="middle" font-weight="normal" fill="#231f20" stroke="#231f20" stroke-width="0.22">10</text>
<line x1="311.30" y1="248.30" x2="311.30" y2="251.30" stroke="#231f20" stroke-width="0.92" stroke-linecap="butt"/>
<text x="311.30" y="261.40" font-size="9.7" text-anchor="middle" font-weight="normal" fill="#231f20" stroke="#231f20" stroke-width="0.22">15</text>
<line x1="342.00" y1="248.30" x2="342.00" y2="251.30" stroke="#231f20" stroke-width="0.92" stroke-linecap="butt"/>
<text x="342.00" y="261.40" font-size="9.7" text-anchor="middle" font-weight="normal" fill="#231f20" stroke="#231f20" stroke-width="0.22">20</text>
<line x1="216.20" y1="248.30" x2="219.20" y2="248.30" stroke="#231f20" stroke-width="0.92" stroke-linecap="butt"/>
<text x="212.80" y="251.80" font-size="9.7" text-anchor="end" font-weight="normal" fill="#231f20" stroke="#231f20" stroke-width="0.22">70</text>
<line x1="216.20" y1="227.83" x2="219.20" y2="227.83" stroke="#231f20" stroke-width="0.92" stroke-linecap="butt"/>
<text x="212.80" y="231.33" font-size="9.7" text-anchor="end" font-weight="normal" fill="#231f20" stroke="#231f20" stroke-width="0.22">80</text>
<line x1="216.20" y1="207.35" x2="219.20" y2="207.35" stroke="#231f20" stroke-width="0.92" stroke-linecap="butt"/>
<text x="212.80" y="210.85" font-size="9.7" text-anchor="end" font-weight="normal" fill="#231f20" stroke="#231f20" stroke-width="0.22">90</text>
<line x1="216.20" y1="186.88" x2="219.20" y2="186.88" stroke="#231f20" stroke-width="0.92" stroke-linecap="butt"/>
<text x="212.80" y="190.38" font-size="9.7" text-anchor="end" font-weight="normal" fill="#231f20" stroke="#231f20" stroke-width="0.22">100</text>
<line x1="216.20" y1="166.40" x2="219.20" y2="166.40" stroke="#231f20" stroke-width="0.92" stroke-linecap="butt"/>
<text x="212.80" y="169.90" font-size="9.7" text-anchor="end" font-weight="normal" fill="#231f20" stroke="#231f20" stroke-width="0.22">110</text>
<text x="280.70" y="156.00" font-size="9.7" text-anchor="middle" font-weight="normal" fill="#231f20" stroke="#231f20" stroke-width="0.22">PDCA-1 depletion</text>
<text x="280.70" y="273.70" font-size="9.7" text-anchor="middle" font-weight="normal" fill="#231f20" stroke="#231f20" stroke-width="0.22">Days post infection</text>
<text x="191.80" y="207.00" font-size="9.7" text-anchor="middle" font-weight="normal" fill="#231f20" stroke="#231f20" stroke-width="0.22" transform="rotate(-90 191.80 207.00)">% Of starting weight</text>
<polyline points="219.20,187.90 225.34,188.92 231.48,187.90 237.62,190.97 249.90,204.28 256.04,211.44 262.18,220.66 268.32,227.83 274.46,232.94 280.60,233.97 292.88,224.75 299.02,223.73 317.44,191.99" fill="none" stroke="#231f20" stroke-width="0.88" stroke-dasharray="7 2.8"/>
<polyline points="219.20,186.88 225.34,186.88 231.48,186.88 237.62,189.95 249.90,199.16 256.04,206.33 262.18,212.47 268.32,218.61 274.46,217.59 280.60,215.54 292.88,210.42 299.02,208.37 317.44,199.16" fill="none" stroke="#231f20" stroke-width="0.88" stroke-dasharray="7 2.8"/>
<line x1="249.90" y1="201.21" x2="249.90" y2="207.35" stroke="#231f20" stroke-width="0.88" stroke-linecap="butt"/>
<line x1="246.70" y1="201.21" x2="253.10" y2="201.21" stroke="#231f20" stroke-width="0.88" stroke-linecap="butt"/>
<line x1="246.70" y1="207.35" x2="253.10" y2="207.35" stroke="#231f20" stroke-width="0.88" stroke-linecap="butt"/>
<line x1="256.04" y1="208.37" x2="256.04" y2="214.52" stroke="#231f20" stroke-width="0.88" stroke-linecap="butt"/>
<line x1="252.84" y1="208.37" x2="259.24" y2="208.37" stroke="#231f20" stroke-width="0.88" stroke-linecap="butt"/>
<line x1="252.84" y1="214.52" x2="259.24" y2="214.52" stroke="#231f20" stroke-width="0.88" stroke-linecap="butt"/>
<line x1="262.18" y1="218.61" x2="262.18" y2="222.71" stroke="#231f20" stroke-width="0.88" stroke-linecap="butt"/>
<line x1="258.98" y1="218.61" x2="265.38" y2="218.61" stroke="#231f20" stroke-width="0.88" stroke-linecap="butt"/>
<line x1="258.98" y1="222.71" x2="265.38" y2="222.71" stroke="#231f20" stroke-width="0.88" stroke-linecap="butt"/>
<line x1="268.32" y1="225.78" x2="268.32" y2="229.87" stroke="#231f20" stroke-width="0.88" stroke-linecap="butt"/>
<line x1="265.12" y1="225.78" x2="271.52" y2="225.78" stroke="#231f20" stroke-width="0.88" stroke-linecap="butt"/>
<line x1="265.12" y1="229.87" x2="271.52" y2="229.87" stroke="#231f20" stroke-width="0.88" stroke-linecap="butt"/>
<line x1="274.46" y1="230.90" x2="274.46" y2="234.99" stroke="#231f20" stroke-width="0.88" stroke-linecap="butt"/>
<line x1="271.26" y1="230.90" x2="277.66" y2="230.90" stroke="#231f20" stroke-width="0.88" stroke-linecap="butt"/>
<line x1="271.26" y1="234.99" x2="277.66" y2="234.99" stroke="#231f20" stroke-width="0.88" stroke-linecap="butt"/>
<line x1="280.60" y1="229.87" x2="280.60" y2="238.06" stroke="#231f20" stroke-width="0.88" stroke-linecap="butt"/>
<line x1="277.40" y1="229.87" x2="283.80" y2="229.87" stroke="#231f20" stroke-width="0.88" stroke-linecap="butt"/>
<line x1="277.40" y1="238.06" x2="283.80" y2="238.06" stroke="#231f20" stroke-width="0.88" stroke-linecap="butt"/>
<line x1="292.88" y1="215.54" x2="292.88" y2="233.97" stroke="#231f20" stroke-width="0.88" stroke-linecap="butt"/>
<line x1="289.68" y1="215.54" x2="296.08" y2="215.54" stroke="#231f20" stroke-width="0.88" stroke-linecap="butt"/>
<line x1="289.68" y1="233.97" x2="296.08" y2="233.97" stroke="#231f20" stroke-width="0.88" stroke-linecap="butt"/>
<line x1="299.02" y1="214.52" x2="299.02" y2="232.94" stroke="#231f20" stroke-width="0.88" stroke-linecap="butt"/>
<line x1="295.82" y1="214.52" x2="302.22" y2="214.52" stroke="#231f20" stroke-width="0.88" stroke-linecap="butt"/>
<line x1="295.82" y1="232.94" x2="302.22" y2="232.94" stroke="#231f20" stroke-width="0.88" stroke-linecap="butt"/>
<line x1="317.44" y1="184.83" x2="317.44" y2="199.16" stroke="#231f20" stroke-width="0.88" stroke-linecap="butt"/>
<line x1="314.24" y1="184.83" x2="320.64" y2="184.83" stroke="#231f20" stroke-width="0.88" stroke-linecap="butt"/>
<line x1="314.24" y1="199.16" x2="320.64" y2="199.16" stroke="#231f20" stroke-width="0.88" stroke-linecap="butt"/>
<line x1="249.90" y1="196.09" x2="249.90" y2="202.23" stroke="#231f20" stroke-width="0.88" stroke-linecap="butt"/>
<line x1="246.70" y1="196.09" x2="253.10" y2="196.09" stroke="#231f20" stroke-width="0.88" stroke-linecap="butt"/>
<line x1="246.70" y1="202.23" x2="253.10" y2="202.23" stroke="#231f20" stroke-width="0.88" stroke-linecap="butt"/>
<line x1="256.04" y1="202.23" x2="256.04" y2="210.42" stroke="#231f20" stroke-width="0.88" stroke-linecap="butt"/>
<line x1="252.84" y1="202.23" x2="259.24" y2="202.23" stroke="#231f20" stroke-width="0.88" stroke-linecap="butt"/>
<line x1="252.84" y1="210.42" x2="259.24" y2="210.42" stroke="#231f20" stroke-width="0.88" stroke-linecap="butt"/>
<line x1="262.18" y1="207.35" x2="262.18" y2="217.59" stroke="#231f20" stroke-width="0.88" stroke-linecap="butt"/>
<line x1="258.98" y1="207.35" x2="265.38" y2="207.35" stroke="#231f20" stroke-width="0.88" stroke-linecap="butt"/>
<line x1="258.98" y1="217.59" x2="265.38" y2="217.59" stroke="#231f20" stroke-width="0.88" stroke-linecap="butt"/>
<line x1="268.32" y1="212.47" x2="268.32" y2="224.75" stroke="#231f20" stroke-width="0.88" stroke-linecap="butt"/>
<line x1="265.12" y1="212.47" x2="271.52" y2="212.47" stroke="#231f20" stroke-width="0.88" stroke-linecap="butt"/>
<line x1="265.12" y1="224.75" x2="271.52" y2="224.75" stroke="#231f20" stroke-width="0.88" stroke-linecap="butt"/>
<line x1="274.46" y1="211.44" x2="274.46" y2="223.73" stroke="#231f20" stroke-width="0.88" stroke-linecap="butt"/>
<line x1="271.26" y1="211.44" x2="277.66" y2="211.44" stroke="#231f20" stroke-width="0.88" stroke-linecap="butt"/>
<line x1="271.26" y1="223.73" x2="277.66" y2="223.73" stroke="#231f20" stroke-width="0.88" stroke-linecap="butt"/>
<line x1="280.60" y1="207.35" x2="280.60" y2="223.73" stroke="#231f20" stroke-width="0.88" stroke-linecap="butt"/>
<line x1="277.40" y1="207.35" x2="283.80" y2="207.35" stroke="#231f20" stroke-width="0.88" stroke-linecap="butt"/>
<line x1="277.40" y1="223.73" x2="283.80" y2="223.73" stroke="#231f20" stroke-width="0.88" stroke-linecap="butt"/>
<line x1="292.88" y1="202.23" x2="292.88" y2="218.61" stroke="#231f20" stroke-width="0.88" stroke-linecap="butt"/>
<line x1="289.68" y1="202.23" x2="296.08" y2="202.23" stroke="#231f20" stroke-width="0.88" stroke-linecap="butt"/>
<line x1="289.68" y1="218.61" x2="296.08" y2="218.61" stroke="#231f20" stroke-width="0.88" stroke-linecap="butt"/>
<line x1="299.02" y1="201.21" x2="299.02" y2="215.54" stroke="#231f20" stroke-width="0.88" stroke-linecap="butt"/>
<line x1="295.82" y1="201.21" x2="302.22" y2="201.21" stroke="#231f20" stroke-width="0.88" stroke-linecap="butt"/>
<line x1="295.82" y1="215.54" x2="302.22" y2="215.54" stroke="#231f20" stroke-width="0.88" stroke-linecap="butt"/>
<line x1="317.44" y1="187.90" x2="317.44" y2="210.42" stroke="#231f20" stroke-width="0.88" stroke-linecap="butt"/>
<line x1="314.24" y1="187.90" x2="320.64" y2="187.90" stroke="#231f20" stroke-width="0.88" stroke-linecap="butt"/>
<line x1="314.24" y1="210.42" x2="320.64" y2="210.42" stroke="#231f20" stroke-width="0.88" stroke-linecap="butt"/>
<polygon points="219.20,184.49 222.45,190.69 215.95,190.69" fill="#fff" stroke="#231f20" stroke-width="1.0" stroke-linejoin="miter"/>
<polygon points="225.34,185.51 228.59,191.71 222.09,191.71" fill="#fff" stroke="#231f20" stroke-width="1.0" stroke-linejoin="miter"/>
<polygon points="231.48,184.49 234.73,190.69 228.23,190.69" fill="#fff" stroke="#231f20" stroke-width="1.0" stroke-linejoin="miter"/>
<polygon points="237.62,187.56 240.87,193.76 234.37,193.76" fill="#fff" stroke="#231f20" stroke-width="1.0" stroke-linejoin="miter"/>
<polygon points="249.90,200.87 253.15,207.07 246.65,207.07" fill="#fff" stroke="#231f20" stroke-width="1.0" stroke-linejoin="miter"/>
<polygon points="256.04,208.03 259.29,214.23 252.79,214.23" fill="#fff" stroke="#231f20" stroke-width="1.0" stroke-linejoin="miter"/>
<polygon points="262.18,217.25 265.43,223.45 258.93,223.45" fill="#fff" stroke="#231f20" stroke-width="1.0" stroke-linejoin="miter"/>
<polygon points="268.32,224.42 271.57,230.62 265.07,230.62" fill="#fff" stroke="#231f20" stroke-width="1.0" stroke-linejoin="miter"/>
<polygon points="274.46,229.53 277.71,235.73 271.21,235.73" fill="#fff" stroke="#231f20" stroke-width="1.0" stroke-linejoin="miter"/>
<polygon points="280.60,230.56 283.85,236.76 277.35,236.76" fill="#fff" stroke="#231f20" stroke-width="1.0" stroke-linejoin="miter"/>
<polygon points="292.88,221.34 296.13,227.54 289.63,227.54" fill="#fff" stroke="#231f20" stroke-width="1.0" stroke-linejoin="miter"/>
<polygon points="299.02,220.32 302.27,226.52 295.77,226.52" fill="#fff" stroke="#231f20" stroke-width="1.0" stroke-linejoin="miter"/>
<polygon points="317.44,188.58 320.69,194.78 314.19,194.78" fill="#fff" stroke="#231f20" stroke-width="1.0" stroke-linejoin="miter"/>
<polygon points="219.20,183.47 222.45,189.66 215.95,189.66" fill="#231f20" stroke="#231f20" stroke-width="1.0" stroke-linejoin="miter"/>
<polygon points="225.34,183.47 228.59,189.66 222.09,189.66" fill="#231f20" stroke="#231f20" stroke-width="1.0" stroke-linejoin="miter"/>
<polygon points="231.48,183.47 234.73,189.66 228.23,189.66" fill="#231f20" stroke="#231f20" stroke-width="1.0" stroke-linejoin="miter"/>
<polygon points="237.62,186.54 240.87,192.74 234.37,192.74" fill="#231f20" stroke="#231f20" stroke-width="1.0" stroke-linejoin="miter"/>
<polygon points="249.90,195.75 253.15,201.95 246.65,201.95" fill="#231f20" stroke="#231f20" stroke-width="1.0" stroke-linejoin="miter"/>
<polygon points="256.04,202.92 259.29,209.12 252.79,209.12" fill="#231f20" stroke="#231f20" stroke-width="1.0" stroke-linejoin="miter"/>
<polygon points="262.18,209.06 265.43,215.26 258.93,215.26" fill="#231f20" stroke="#231f20" stroke-width="1.0" stroke-linejoin="miter"/>
<polygon points="268.32,215.20 271.57,221.40 265.07,221.40" fill="#231f20" stroke="#231f20" stroke-width="1.0" stroke-linejoin="miter"/>
<polygon points="274.46,214.18 277.71,220.38 271.21,220.38" fill="#231f20" stroke="#231f20" stroke-width="1.0" stroke-linejoin="miter"/>
<polygon points="280.60,212.13 283.85,218.33 277.35,218.33" fill="#231f20" stroke="#231f20" stroke-width="1.0" stroke-linejoin="miter"/>
<polygon points="292.88,207.01 296.13,213.21 289.63,213.21" fill="#231f20" stroke="#231f20" stroke-width="1.0" stroke-linejoin="miter"/>
<polygon points="299.02,204.96 302.27,211.16 295.77,211.16" fill="#231f20" stroke="#231f20" stroke-width="1.0" stroke-linejoin="miter"/>
<polygon points="317.44,195.75 320.69,201.95 314.19,201.95" fill="#231f20" stroke="#231f20" stroke-width="1.0" stroke-linejoin="miter"/>
<text x="332.70" y="204.73" font-size="8.6" text-anchor="middle" font-weight="bold" fill="#231f20" letter-spacing="0.35">**</text>
<line x1="42.50" y1="311.95" x2="42.50" y2="394.95" stroke="#231f20" stroke-width="0.92" stroke-linecap="butt"/>
<line x1="42.05" y1="394.50" x2="166.65" y2="394.50" stroke="#231f20" stroke-width="0.92" stroke-linecap="butt"/>
<line x1="42.50" y1="394.50" x2="42.50" y2="397.50" stroke="#231f20" stroke-width="0.92" stroke-linecap="butt"/>
<text x="42.50" y="406.00" font-size="9.7" text-anchor="middle" font-weight="normal" fill="#231f20" stroke="#231f20" stroke-width="0.22">0</text>
<line x1="67.14" y1="394.50" x2="67.14" y2="397.50" stroke="#231f20" stroke-width="0.92" stroke-linecap="butt"/>
<text x="67.14" y="406.00" font-size="9.7" text-anchor="middle" font-weight="normal" fill="#231f20" stroke="#231f20" stroke-width="0.22">2</text>
<line x1="91.78" y1="394.50" x2="91.78" y2="397.50" stroke="#231f20" stroke-width="0.92" stroke-linecap="butt"/>
<text x="91.78" y="406.00" font-size="9.7" text-anchor="middle" font-weight="normal" fill="#231f20" stroke="#231f20" stroke-width="0.22">4</text>
<line x1="116.42" y1="394.50" x2="116.42" y2="397.50" stroke="#231f20" stroke-width="0.92" stroke-linecap="butt"/>
<text x="116.42" y="406.00" font-size="9.7" text-anchor="middle" font-weight="normal" fill="#231f20" stroke="#231f20" stroke-width="0.22">6</text>
<line x1="141.06" y1="394.50" x2="141.06" y2="397.50" stroke="#231f20" stroke-width="0.92" stroke-linecap="butt"/>
<text x="141.06" y="406.00" font-size="9.7" text-anchor="middle" font-weight="normal" fill="#231f20" stroke="#231f20" stroke-width="0.22">8</text>
<line x1="165.70" y1="394.50" x2="165.70" y2="397.50" stroke="#231f20" stroke-width="0.92" stroke-linecap="butt"/>
<text x="165.70" y="406.00" font-size="9.7" text-anchor="middle" font-weight="normal" fill="#231f20" stroke="#231f20" stroke-width="0.22">10</text>
<line x1="39.50" y1="394.50" x2="42.50" y2="394.50" stroke="#231f20" stroke-width="0.92" stroke-linecap="butt"/>
<text x="36.10" y="398.00" font-size="9.7" text-anchor="end" font-weight="normal" fill="#231f20" stroke="#231f20" stroke-width="0.22">0</text>
<line x1="39.50" y1="373.98" x2="42.50" y2="373.98" stroke="#231f20" stroke-width="0.92" stroke-linecap="butt"/>
<text x="36.10" y="377.48" font-size="9.7" text-anchor="end" font-weight="normal" fill="#231f20" stroke="#231f20" stroke-width="0.22">100</text>
<line x1="39.50" y1="353.45" x2="42.50" y2="353.45" stroke="#231f20" stroke-width="0.92" stroke-linecap="butt"/>
<text x="36.10" y="356.95" font-size="9.7" text-anchor="end" font-weight="normal" fill="#231f20" stroke="#231f20" stroke-width="0.22">200</text>
<line x1="39.50" y1="332.92" x2="42.50" y2="332.92" stroke="#231f20" stroke-width="0.92" stroke-linecap="butt"/>
<text x="36.10" y="336.42" font-size="9.7" text-anchor="end" font-weight="normal" fill="#231f20" stroke="#231f20" stroke-width="0.22">300</text>
<line x1="39.50" y1="312.40" x2="42.50" y2="312.40" stroke="#231f20" stroke-width="0.92" stroke-linecap="butt"/>
<text x="36.10" y="315.90" font-size="9.7" text-anchor="end" font-weight="normal" fill="#231f20" stroke="#231f20" stroke-width="0.22">400</text>
<text x="102.40" y="299.60" font-size="9.7" text-anchor="middle" font-weight="normal" fill="#231f20" stroke="#231f20" stroke-width="0.22">IFNα</text>
<text x="103.00" y="417.80" font-size="9.7" text-anchor="middle" font-weight="normal" fill="#231f20" stroke="#231f20" stroke-width="0.22">Days post infection</text>
<text x="14.10" y="353.20" font-size="9.7" text-anchor="middle" font-weight="normal" fill="#231f20" stroke="#231f20" stroke-width="0.22" transform="rotate(-90 14.10 353.20)">pg ml<tspan font-size="6.8" dy="-4.2">–1</tspan></text>
<polyline points="42.69,395.00 67.29,344.78 116.01,321.43 141.87,381.69" fill="none" stroke="#231f20" stroke-width="0.88" stroke-dasharray="7 2.8"/>
<polyline points="42.69,395.00 67.29,382.20 116.01,394.25 141.87,394.75" fill="none" stroke="#231f20" stroke-width="0.88" stroke-dasharray="7 2.8"/>
<line x1="141.87" y1="374.16" x2="141.87" y2="387.47" stroke="#231f20" stroke-width="0.88" stroke-linecap="butt"/>
<line x1="138.67" y1="374.16" x2="145.07" y2="374.16" stroke="#231f20" stroke-width="0.88" stroke-linecap="butt"/>
<line x1="138.67" y1="387.47" x2="145.07" y2="387.47" stroke="#231f20" stroke-width="0.88" stroke-linecap="butt"/>
<line x1="67.29" y1="377.42" x2="67.29" y2="385.46" stroke="#231f20" stroke-width="0.88" stroke-linecap="butt"/>
<line x1="64.09" y1="377.42" x2="70.49" y2="377.42" stroke="#231f20" stroke-width="0.88" stroke-linecap="butt"/>
<line x1="64.09" y1="385.46" x2="70.49" y2="385.46" stroke="#231f20" stroke-width="0.88" stroke-linecap="butt"/>
<polygon points="42.69,391.59 45.94,397.79 39.44,397.79" fill="#fff" stroke="#231f20" stroke-width="1.0" stroke-linejoin="miter"/>
<polygon points="67.29,341.37 70.54,347.57 64.04,347.57" fill="#fff" stroke="#231f20" stroke-width="1.0" stroke-linejoin="miter"/>
<polygon points="116.01,318.02 119.26,324.22 112.76,324.22" fill="#fff" stroke="#231f20" stroke-width="1.0" stroke-linejoin="miter"/>
<polygon points="141.87,378.28 145.12,384.48 138.62,384.48" fill="#fff" stroke="#231f20" stroke-width="1.0" stroke-linejoin="miter"/>
<polygon points="42.69,391.59 45.94,397.79 39.44,397.79" fill="#231f20" stroke="#231f20" stroke-width="1.0" stroke-linejoin="miter"/>
<polygon points="67.29,378.79 70.54,384.99 64.04,384.99" fill="#231f20" stroke="#231f20" stroke-width="1.0" stroke-linejoin="miter"/>
<polygon points="116.01,390.84 119.26,397.04 112.76,397.04" fill="#231f20" stroke="#231f20" stroke-width="1.0" stroke-linejoin="miter"/>
<polygon points="141.87,391.34 145.12,397.54 138.62,397.54" fill="#231f20" stroke="#231f20" stroke-width="1.0" stroke-linejoin="miter"/>
<line x1="43.00" y1="317.40" x2="48.60" y2="317.40" stroke="#231f20" stroke-width="0.9" stroke-linecap="butt"/>
<polygon points="48.60,314.21 51.50,320.01 45.70,320.01" fill="#231f20" stroke="#231f20" stroke-width="1.0" stroke-linejoin="miter"/>
<text x="55.20" y="318.20" font-size="8.4" text-anchor="start" font-weight="normal" fill="#231f20" stroke="#231f20" stroke-width="0.22">αPDCA-1</text>
<line x1="44.40" y1="327.20" x2="48.70" y2="327.20" stroke="#231f20" stroke-width="0.9" stroke-linecap="butt"/>
<polygon points="48.70,323.79 51.70,329.99 45.70,329.99" fill="#fff" stroke="#231f20" stroke-width="1.0" stroke-linejoin="miter"/>
<text x="55.70" y="330.30" font-size="8.4" text-anchor="start" font-weight="normal" fill="#231f20" stroke="#231f20" stroke-width="0.22">IgG2b</text>
<text x="67.30" y="341.03" font-size="8.6" text-anchor="middle" font-weight="bold" fill="#231f20" letter-spacing="0.35">**</text>
<text x="116.00" y="317.03" font-size="8.6" text-anchor="middle" font-weight="bold" fill="#231f20" letter-spacing="0.35">**</text>
<text x="158.20" y="351.03" font-size="8.6" text-anchor="middle" font-weight="bold" fill="#231f20" letter-spacing="0.35">***</text>
<line x1="220.50" y1="312.30" x2="220.50" y2="394.10" stroke="#231f20" stroke-width="0.92" stroke-linecap="butt"/>
<line x1="220.00" y1="393.60" x2="342.70" y2="393.60" stroke="#231f20" stroke-width="0.92" stroke-linecap="butt"/>
<line x1="217.50" y1="393.60" x2="220.50" y2="393.60" stroke="#231f20" stroke-width="0.92" stroke-linecap="butt"/>
<text x="215.30" y="398.00" font-size="9.7" text-anchor="end" font-weight="normal" fill="#231f20" stroke="#231f20" stroke-width="0.22">10<tspan font-size="7" dy="-3.4">2</tspan></text>
<line x1="217.50" y1="373.40" x2="220.50" y2="373.40" stroke="#231f20" stroke-width="0.92" stroke-linecap="butt"/>
<text x="215.30" y="377.80" font-size="9.7" text-anchor="end" font-weight="normal" fill="#231f20" stroke="#231f20" stroke-width="0.22">10<tspan font-size="7" dy="-3.4">3</tspan></text>
<line x1="217.50" y1="353.20" x2="220.50" y2="353.20" stroke="#231f20" stroke-width="0.92" stroke-linecap="butt"/>
<text x="215.30" y="357.60" font-size="9.7" text-anchor="end" font-weight="normal" fill="#231f20" stroke="#231f20" stroke-width="0.22">10<tspan font-size="7" dy="-3.4">4</tspan></text>
<line x1="217.50" y1="333.00" x2="220.50" y2="333.00" stroke="#231f20" stroke-width="0.92" stroke-linecap="butt"/>
<text x="215.30" y="337.40" font-size="9.7" text-anchor="end" font-weight="normal" fill="#231f20" stroke="#231f20" stroke-width="0.22">10<tspan font-size="7" dy="-3.4">5</tspan></text>
<line x1="217.50" y1="312.80" x2="220.50" y2="312.80" stroke="#231f20" stroke-width="0.92" stroke-linecap="butt"/>
<text x="215.30" y="317.20" font-size="9.7" text-anchor="end" font-weight="normal" fill="#231f20" stroke="#231f20" stroke-width="0.22">10<tspan font-size="7" dy="-3.4">6</tspan></text>
<text x="281.70" y="299.60" font-size="9.7" text-anchor="middle" font-weight="normal" fill="#231f20" stroke="#231f20" stroke-width="0.22">H3N2 (X31)</text>
<text x="196.00" y="353.00" font-size="9.7" text-anchor="middle" font-weight="normal" fill="#231f20" stroke="#231f20" stroke-width="0.22" transform="rotate(-90 196.00 353.00)">TCID<tspan font-size="6.8" dy="1.8">50</tspan><tspan dy="-1.8">&#160;per BAL</tspan></text>
<text x="240.20" y="404.90" font-size="10" text-anchor="middle" font-weight="normal" fill="#231f20" stroke="#231f20" stroke-width="0.22">2<tspan dx="1.4">d.p.i.</tspan></text>
<text x="282.20" y="404.90" font-size="10" text-anchor="middle" font-weight="normal" fill="#231f20" stroke="#231f20" stroke-width="0.22">6<tspan dx="1.4">d.p.i.</tspan></text>
<text x="324.30" y="404.90" font-size="10" text-anchor="middle" font-weight="normal" fill="#231f20" stroke="#231f20" stroke-width="0.22">8<tspan dx="1.4">d.p.i.</tspan></text>
<line x1="224.10" y1="328.50" x2="237.00" y2="328.50" stroke="#231f20" stroke-width="0.85" stroke-linecap="butt"/>
<line x1="230.50" y1="325.60" x2="230.50" y2="333.60" stroke="#231f20" stroke-width="0.85" stroke-linecap="butt"/>
<line x1="227.90" y1="325.60" x2="233.10" y2="325.60" stroke="#231f20" stroke-width="0.85" stroke-linecap="butt"/>
<line x1="227.90" y1="333.60" x2="233.10" y2="333.60" stroke="#231f20" stroke-width="0.85" stroke-linecap="butt"/>
<polygon points="230.50,319.68 233.95,326.08 227.05,326.08" fill="#fff" stroke="#231f20" stroke-width="1.0" stroke-linejoin="miter"/>
<polygon points="227.10,333.68 230.55,340.08 223.65,340.08" fill="#fff" stroke="#231f20" stroke-width="1.0" stroke-linejoin="miter"/>
<polygon points="236.30,329.28 239.75,335.68 232.85,335.68" fill="#fff" stroke="#231f20" stroke-width="1.0" stroke-linejoin="miter"/>
<line x1="244.70" y1="330.60" x2="260.00" y2="330.60" stroke="#231f20" stroke-width="0.85" stroke-linecap="butt"/>
<line x1="250.80" y1="328.00" x2="250.80" y2="334.20" stroke="#231f20" stroke-width="0.85" stroke-linecap="butt"/>
<line x1="247.80" y1="328.00" x2="253.80" y2="328.00" stroke="#231f20" stroke-width="0.85" stroke-linecap="butt"/>
<line x1="247.80" y1="334.20" x2="253.80" y2="334.20" stroke="#231f20" stroke-width="0.85" stroke-linecap="butt"/>
<polygon points="250.80,320.08 254.25,326.48 247.35,326.48" fill="#231f20" stroke="#231f20" stroke-width="1.0" stroke-linejoin="miter"/>
<polygon points="245.10,331.48 248.55,337.88 241.65,337.88" fill="#231f20" stroke="#231f20" stroke-width="1.0" stroke-linejoin="miter"/>
<polygon points="256.90,330.18 260.35,336.58 253.45,336.58" fill="#231f20" stroke="#231f20" stroke-width="1.0" stroke-linejoin="miter"/>
<polygon points="252.50,334.18 255.95,340.58 249.05,340.58" fill="#231f20" stroke="#231f20" stroke-width="1.0" stroke-linejoin="miter"/>
<polygon points="249.50,339.38 252.95,345.78 246.05,345.78" fill="#231f20" stroke="#231f20" stroke-width="1.0" stroke-linejoin="miter"/>
<polyline points="224.10,318.00 224.10,316.20 257.40,316.20 257.40,318.00" fill="none" stroke="#231f20" stroke-width="0.9"/>
<text x="241.60" y="311.60" font-size="9.7" text-anchor="middle" font-weight="normal" fill="#231f20" stroke="#231f20" stroke-width="0.22">NS</text>
<line x1="264.90" y1="355.20" x2="277.60" y2="355.20" stroke="#231f20" stroke-width="0.85" stroke-linecap="butt"/>
<line x1="271.40" y1="352.00" x2="271.40" y2="364.00" stroke="#231f20" stroke-width="0.85" stroke-linecap="butt"/>
<polygon points="271.40,348.18 274.85,354.58 267.95,354.58" fill="#fff" stroke="#231f20" stroke-width="1.0" stroke-linejoin="miter"/>
<polygon points="271.40,360.88 274.85,367.28 267.95,367.28" fill="#fff" stroke="#231f20" stroke-width="1.0" stroke-linejoin="miter"/>
<line x1="285.20" y1="358.30" x2="294.40" y2="358.30" stroke="#231f20" stroke-width="0.85" stroke-linecap="butt"/>
<line x1="291.80" y1="355.00" x2="291.80" y2="363.50" stroke="#231f20" stroke-width="0.85" stroke-linecap="butt"/>
<line x1="288.80" y1="355.00" x2="294.80" y2="355.00" stroke="#231f20" stroke-width="0.85" stroke-linecap="butt"/>
<line x1="288.80" y1="363.50" x2="294.80" y2="363.50" stroke="#231f20" stroke-width="0.85" stroke-linecap="butt"/>
<polygon points="288.50,360.38 291.95,366.78 285.05,366.78" fill="#231f20" stroke="#231f20" stroke-width="1.0" stroke-linejoin="miter"/>
<polygon points="297.00,352.08 300.45,358.48 293.55,358.48" fill="#231f20" stroke="#231f20" stroke-width="1.0" stroke-linejoin="miter"/>
<polyline points="266.20,346.00 266.20,343.80 299.00,343.80 299.00,346.00" fill="none" stroke="#231f20" stroke-width="0.9"/>
<text x="283.90" y="340.20" font-size="9.7" text-anchor="middle" font-weight="normal" fill="#231f20" stroke="#231f20" stroke-width="0.22">NS</text>
<line x1="308.90" y1="384.60" x2="317.40" y2="384.60" stroke="#231f20" stroke-width="0.85" stroke-linecap="butt"/>
<line x1="328.60" y1="384.60" x2="337.50" y2="384.60" stroke="#231f20" stroke-width="0.85" stroke-linecap="butt"/>
<polygon points="308.90,380.58 312.35,386.98 305.45,386.98" fill="#fff" stroke="#231f20" stroke-width="1.0" stroke-linejoin="miter"/>
<polygon points="317.40,380.58 320.85,386.98 313.95,386.98" fill="#fff" stroke="#231f20" stroke-width="1.0" stroke-linejoin="miter"/>
<polygon points="328.60,380.58 332.05,386.98 325.15,386.98" fill="#231f20" stroke="#231f20" stroke-width="1.0" stroke-linejoin="miter"/>
<polygon points="337.50,380.58 340.95,386.98 334.05,386.98" fill="#231f20" stroke="#231f20" stroke-width="1.0" stroke-linejoin="miter"/>
<polygon points="227.50,374.58 230.70,380.98 224.30,380.98" fill="#fff" stroke="#231f20" stroke-width="1.0" stroke-linejoin="miter"/>
<text x="234.80" y="381.60" font-size="8.4" text-anchor="start" font-weight="normal" fill="#231f20" stroke="#231f20" stroke-width="0.22">IgG2b</text>
<polygon points="227.50,384.88 230.70,391.28 224.30,391.28" fill="#231f20" stroke="#231f20" stroke-width="1.0" stroke-linejoin="miter"/>
<text x="234.80" y="391.90" font-size="8.4" text-anchor="start" font-weight="normal" fill="#231f20" stroke="#231f20" stroke-width="0.22">αPDCA-1</text>
<line x1="42.70" y1="452.35" x2="42.70" y2="534.05" stroke="#231f20" stroke-width="0.92" stroke-linecap="butt"/>
<line x1="42.25" y1="533.60" x2="165.15" y2="533.60" stroke="#231f20" stroke-width="0.92" stroke-linecap="butt"/>
<line x1="42.70" y1="533.60" x2="42.70" y2="536.60" stroke="#231f20" stroke-width="0.92" stroke-linecap="butt"/>
<text x="42.70" y="546.50" font-size="9.7" text-anchor="middle" font-weight="normal" fill="#231f20" stroke="#231f20" stroke-width="0.22">0</text>
<line x1="67.04" y1="533.60" x2="67.04" y2="536.60" stroke="#231f20" stroke-width="0.92" stroke-linecap="butt"/>
<text x="67.04" y="546.50" font-size="9.7" text-anchor="middle" font-weight="normal" fill="#231f20" stroke="#231f20" stroke-width="0.22">2</text>
<line x1="91.38" y1="533.60" x2="91.38" y2="536.60" stroke="#231f20" stroke-width="0.92" stroke-linecap="butt"/>
<text x="91.38" y="546.50" font-size="9.7" text-anchor="middle" font-weight="normal" fill="#231f20" stroke="#231f20" stroke-width="0.22">4</text>
<line x1="115.72" y1="533.60" x2="115.72" y2="536.60" stroke="#231f20" stroke-width="0.92" stroke-linecap="butt"/>
<text x="115.72" y="546.50" font-size="9.7" text-anchor="middle" font-weight="normal" fill="#231f20" stroke="#231f20" stroke-width="0.22">6</text>
<line x1="140.06" y1="533.60" x2="140.06" y2="536.60" stroke="#231f20" stroke-width="0.92" stroke-linecap="butt"/>
<text x="140.06" y="546.50" font-size="9.7" text-anchor="middle" font-weight="normal" fill="#231f20" stroke="#231f20" stroke-width="0.22">8</text>
<line x1="164.40" y1="533.60" x2="164.40" y2="536.60" stroke="#231f20" stroke-width="0.92" stroke-linecap="butt"/>
<text x="164.40" y="546.50" font-size="9.7" text-anchor="middle" font-weight="normal" fill="#231f20" stroke="#231f20" stroke-width="0.22">10</text>
<line x1="39.70" y1="533.60" x2="42.70" y2="533.60" stroke="#231f20" stroke-width="0.92" stroke-linecap="butt"/>
<text x="36.30" y="537.10" font-size="9.7" text-anchor="end" font-weight="normal" fill="#231f20" stroke="#231f20" stroke-width="0.22">0.0</text>
<line x1="39.70" y1="517.44" x2="42.70" y2="517.44" stroke="#231f20" stroke-width="0.92" stroke-linecap="butt"/>
<text x="36.30" y="520.94" font-size="9.7" text-anchor="end" font-weight="normal" fill="#231f20" stroke="#231f20" stroke-width="0.22">0.2</text>
<line x1="39.70" y1="501.28" x2="42.70" y2="501.28" stroke="#231f20" stroke-width="0.92" stroke-linecap="butt"/>
<text x="36.30" y="504.78" font-size="9.7" text-anchor="end" font-weight="normal" fill="#231f20" stroke="#231f20" stroke-width="0.22">0.4</text>
<line x1="39.70" y1="485.12" x2="42.70" y2="485.12" stroke="#231f20" stroke-width="0.92" stroke-linecap="butt"/>
<text x="36.30" y="488.62" font-size="9.7" text-anchor="end" font-weight="normal" fill="#231f20" stroke="#231f20" stroke-width="0.22">0.6</text>
<line x1="39.70" y1="468.96" x2="42.70" y2="468.96" stroke="#231f20" stroke-width="0.92" stroke-linecap="butt"/>
<text x="36.30" y="472.46" font-size="9.7" text-anchor="end" font-weight="normal" fill="#231f20" stroke="#231f20" stroke-width="0.22">0.8</text>
<line x1="39.70" y1="452.80" x2="42.70" y2="452.80" stroke="#231f20" stroke-width="0.92" stroke-linecap="butt"/>
<text x="36.30" y="456.30" font-size="9.7" text-anchor="end" font-weight="normal" fill="#231f20" stroke="#231f20" stroke-width="0.22">1.0</text>
<text x="102.40" y="440.10" font-size="9.7" text-anchor="middle" font-weight="normal" fill="#231f20" stroke="#231f20" stroke-width="0.22">pDCs</text>
<text x="103.00" y="559.70" font-size="9.7" text-anchor="middle" font-weight="normal" fill="#231f20" stroke="#231f20" stroke-width="0.22">Days post infection</text>
<text x="16.20" y="492.60" font-size="9.7" text-anchor="middle" font-weight="normal" fill="#231f20" stroke="#231f20" stroke-width="0.22" transform="rotate(-90 16.20 492.60)">Cells x 10<tspan font-size="6.8" dy="-3.8">6</tspan></text>
<polyline points="42.69,533.49 67.04,526.72 115.50,511.65 140.11,473.23" fill="none" stroke="#231f20" stroke-width="0.88" stroke-dasharray="7 2.8"/>
<polyline points="42.69,533.49 67.04,533.49 115.50,533.49 140.11,533.49" fill="none" stroke="#231f20" stroke-width="0.88" stroke-dasharray="7 2.8"/>
<line x1="115.50" y1="497.09" x2="115.50" y2="524.96" stroke="#231f20" stroke-width="0.88" stroke-linecap="butt"/>
<line x1="112.30" y1="497.09" x2="118.70" y2="497.09" stroke="#231f20" stroke-width="0.88" stroke-linecap="butt"/>
<line x1="112.30" y1="524.96" x2="118.70" y2="524.96" stroke="#231f20" stroke-width="0.88" stroke-linecap="butt"/>
<line x1="140.11" y1="467.21" x2="140.11" y2="479.01" stroke="#231f20" stroke-width="0.88" stroke-linecap="butt"/>
<line x1="136.91" y1="467.21" x2="143.31" y2="467.21" stroke="#231f20" stroke-width="0.88" stroke-linecap="butt"/>
<line x1="136.91" y1="479.01" x2="143.31" y2="479.01" stroke="#231f20" stroke-width="0.88" stroke-linecap="butt"/>
<polygon points="42.69,530.08 45.94,536.28 39.44,536.28" fill="#fff" stroke="#231f20" stroke-width="1.0" stroke-linejoin="miter"/>
<polygon points="67.04,523.31 70.29,529.51 63.79,529.51" fill="#fff" stroke="#231f20" stroke-width="1.0" stroke-linejoin="miter"/>
<polygon points="115.50,508.24 118.75,514.44 112.25,514.44" fill="#fff" stroke="#231f20" stroke-width="1.0" stroke-linejoin="miter"/>
<polygon points="140.11,469.82 143.36,476.02 136.86,476.02" fill="#fff" stroke="#231f20" stroke-width="1.0" stroke-linejoin="miter"/>
<polygon points="42.69,530.08 45.94,536.28 39.44,536.28" fill="#231f20" stroke="#231f20" stroke-width="1.0" stroke-linejoin="miter"/>
<polygon points="67.04,530.08 70.29,536.28 63.79,536.28" fill="#231f20" stroke="#231f20" stroke-width="1.0" stroke-linejoin="miter"/>
<polygon points="115.50,530.08 118.75,536.28 112.25,536.28" fill="#231f20" stroke="#231f20" stroke-width="1.0" stroke-linejoin="miter"/>
<polygon points="140.11,530.08 143.36,536.28 136.86,536.28" fill="#231f20" stroke="#231f20" stroke-width="1.0" stroke-linejoin="miter"/>
<line x1="43.90" y1="458.20" x2="49.00" y2="458.20" stroke="#231f20" stroke-width="0.9" stroke-linecap="butt"/>
<polygon points="49.00,455.12 51.70,460.72 46.30,460.72" fill="#231f20" stroke="#231f20" stroke-width="0.9" stroke-linejoin="miter"/>
<text x="55.70" y="458.70" font-size="8.4" text-anchor="start" font-weight="normal" fill="#231f20" stroke="#231f20" stroke-width="0.22">αPDCA-1</text>
<line x1="44.20" y1="467.60" x2="49.00" y2="467.60" stroke="#231f20" stroke-width="0.9" stroke-linecap="butt"/>
<polygon points="49.20,464.30 52.15,470.30 46.25,470.30" fill="#fff" stroke="#231f20" stroke-width="0.9" stroke-linejoin="miter"/>
<text x="55.70" y="469.60" font-size="8.4" text-anchor="start" font-weight="normal" fill="#231f20" stroke="#231f20" stroke-width="0.22">IgG2b</text>
<text x="115.50" y="497.73" font-size="8.6" text-anchor="middle" font-weight="bold" fill="#231f20" letter-spacing="0.35">**</text>
<text x="141.10" y="466.73" font-size="8.6" text-anchor="middle" font-weight="bold" fill="#231f20" letter-spacing="0.35">**</text>
<text x="154.90" y="515.33" font-size="8.6" text-anchor="middle" font-weight="bold" fill="#231f20" letter-spacing="0.35">***</text>
<line x1="220.40" y1="452.35" x2="220.40" y2="534.05" stroke="#231f20" stroke-width="0.92" stroke-linecap="butt"/>
<line x1="219.95" y1="533.60" x2="342.85" y2="533.60" stroke="#231f20" stroke-width="0.92" stroke-linecap="butt"/>
<line x1="220.40" y1="533.60" x2="220.40" y2="536.60" stroke="#231f20" stroke-width="0.92" stroke-linecap="butt"/>
<text x="220.40" y="546.50" font-size="9.7" text-anchor="middle" font-weight="normal" fill="#231f20" stroke="#231f20" stroke-width="0.22">0</text>
<line x1="244.74" y1="533.60" x2="244.74" y2="536.60" stroke="#231f20" stroke-width="0.92" stroke-linecap="butt"/>
<text x="244.74" y="546.50" font-size="9.7" text-anchor="middle" font-weight="normal" fill="#231f20" stroke="#231f20" stroke-width="0.22">2</text>
<line x1="269.08" y1="533.60" x2="269.08" y2="536.60" stroke="#231f20" stroke-width="0.92" stroke-linecap="butt"/>
<text x="269.08" y="546.50" font-size="9.7" text-anchor="middle" font-weight="normal" fill="#231f20" stroke="#231f20" stroke-width="0.22">4</text>
<line x1="293.42" y1="533.60" x2="293.42" y2="536.60" stroke="#231f20" stroke-width="0.92" stroke-linecap="butt"/>
<text x="293.42" y="546.50" font-size="9.7" text-anchor="middle" font-weight="normal" fill="#231f20" stroke="#231f20" stroke-width="0.22">6</text>
<line x1="317.76" y1="533.60" x2="317.76" y2="536.60" stroke="#231f20" stroke-width="0.92" stroke-linecap="butt"/>
<text x="317.76" y="546.50" font-size="9.7" text-anchor="middle" font-weight="normal" fill="#231f20" stroke="#231f20" stroke-width="0.22">8</text>
<line x1="342.10" y1="533.60" x2="342.10" y2="536.60" stroke="#231f20" stroke-width="0.92" stroke-linecap="butt"/>
<text x="342.10" y="546.50" font-size="9.7" text-anchor="middle" font-weight="normal" fill="#231f20" stroke="#231f20" stroke-width="0.22">10</text>
<line x1="217.40" y1="533.60" x2="220.40" y2="533.60" stroke="#231f20" stroke-width="0.92" stroke-linecap="butt"/>
<text x="214.00" y="537.10" font-size="9.7" text-anchor="end" font-weight="normal" fill="#231f20" stroke="#231f20" stroke-width="0.22">0</text>
<line x1="217.40" y1="513.40" x2="220.40" y2="513.40" stroke="#231f20" stroke-width="0.92" stroke-linecap="butt"/>
<text x="214.00" y="516.90" font-size="9.7" text-anchor="end" font-weight="normal" fill="#231f20" stroke="#231f20" stroke-width="0.22">1</text>
<line x1="217.40" y1="493.20" x2="220.40" y2="493.20" stroke="#231f20" stroke-width="0.92" stroke-linecap="butt"/>
<text x="214.00" y="496.70" font-size="9.7" text-anchor="end" font-weight="normal" fill="#231f20" stroke="#231f20" stroke-width="0.22">2</text>
<line x1="217.40" y1="473.00" x2="220.40" y2="473.00" stroke="#231f20" stroke-width="0.92" stroke-linecap="butt"/>
<text x="214.00" y="476.50" font-size="9.7" text-anchor="end" font-weight="normal" fill="#231f20" stroke="#231f20" stroke-width="0.22">3</text>
<line x1="217.40" y1="452.80" x2="220.40" y2="452.80" stroke="#231f20" stroke-width="0.92" stroke-linecap="butt"/>
<text x="214.00" y="456.30" font-size="9.7" text-anchor="end" font-weight="normal" fill="#231f20" stroke="#231f20" stroke-width="0.22">4</text>
<text x="281.70" y="440.10" font-size="9.7" text-anchor="middle" font-weight="normal" fill="#231f20" stroke="#231f20" stroke-width="0.22">NK cells</text>
<text x="280.70" y="559.70" font-size="9.7" text-anchor="middle" font-weight="normal" fill="#231f20" stroke="#231f20" stroke-width="0.22">Days post infection</text>
<text x="204.10" y="492.60" font-size="9.7" text-anchor="middle" font-weight="normal" fill="#231f20" stroke="#231f20" stroke-width="0.22" transform="rotate(-90 204.10 492.60)">Cells x 10<tspan font-size="6.8" dy="-3.8">6</tspan></text>
<polyline points="220.21,531.74 244.82,520.44 293.28,473.23 317.64,487.80" fill="none" stroke="#231f20" stroke-width="0.88" stroke-dasharray="7 2.8"/>
<polyline points="220.21,531.24 244.82,522.45 293.28,507.13 317.64,512.40" fill="none" stroke="#231f20" stroke-width="0.88" stroke-dasharray="7 2.8"/>
<line x1="293.28" y1="497.84" x2="293.28" y2="516.17" stroke="#231f20" stroke-width="0.88" stroke-linecap="butt"/>
<line x1="290.08" y1="497.84" x2="296.48" y2="497.84" stroke="#231f20" stroke-width="0.88" stroke-linecap="butt"/>
<line x1="290.08" y1="516.17" x2="296.48" y2="516.17" stroke="#231f20" stroke-width="0.88" stroke-linecap="butt"/>
<line x1="317.64" y1="505.87" x2="317.64" y2="518.68" stroke="#231f20" stroke-width="0.88" stroke-linecap="butt"/>
<line x1="314.44" y1="505.87" x2="320.84" y2="505.87" stroke="#231f20" stroke-width="0.88" stroke-linecap="butt"/>
<line x1="314.44" y1="518.68" x2="320.84" y2="518.68" stroke="#231f20" stroke-width="0.88" stroke-linecap="butt"/>
<polygon points="220.21,528.33 223.46,534.53 216.96,534.53" fill="#fff" stroke="#231f20" stroke-width="1.0" stroke-linejoin="miter"/>
<polygon points="244.82,517.03 248.07,523.23 241.57,523.23" fill="#fff" stroke="#231f20" stroke-width="1.0" stroke-linejoin="miter"/>
<polygon points="293.28,469.82 296.53,476.02 290.03,476.02" fill="#fff" stroke="#231f20" stroke-width="1.0" stroke-linejoin="miter"/>
<polygon points="317.64,484.39 320.89,490.59 314.39,490.59" fill="#fff" stroke="#231f20" stroke-width="1.0" stroke-linejoin="miter"/>
<polygon points="220.21,527.83 223.46,534.03 216.96,534.03" fill="#231f20" stroke="#231f20" stroke-width="1.0" stroke-linejoin="miter"/>
<polygon points="244.82,519.04 248.07,525.24 241.57,525.24" fill="#231f20" stroke="#231f20" stroke-width="1.0" stroke-linejoin="miter"/>
<polygon points="293.28,503.72 296.53,509.92 290.03,509.92" fill="#231f20" stroke="#231f20" stroke-width="1.0" stroke-linejoin="miter"/>
<polygon points="317.64,508.99 320.89,515.19 314.39,515.19" fill="#231f20" stroke="#231f20" stroke-width="1.0" stroke-linejoin="miter"/>
<text x="330.90" y="505.23" font-size="8.6" text-anchor="middle" font-weight="bold" fill="#231f20" letter-spacing="0.35">**</text>
<line x1="390.60" y1="452.35" x2="390.60" y2="534.05" stroke="#231f20" stroke-width="0.92" stroke-linecap="butt"/>
<line x1="390.15" y1="533.60" x2="513.05" y2="533.60" stroke="#231f20" stroke-width="0.92" stroke-linecap="butt"/>
<line x1="390.60" y1="533.60" x2="390.60" y2="536.60" stroke="#231f20" stroke-width="0.92" stroke-linecap="butt"/>
<text x="390.60" y="546.50" font-size="9.7" text-anchor="middle" font-weight="normal" fill="#231f20" stroke="#231f20" stroke-width="0.22">0</text>
<line x1="414.94" y1="533.60" x2="414.94" y2="536.60" stroke="#231f20" stroke-width="0.92" stroke-linecap="butt"/>
<text x="414.94" y="546.50" font-size="9.7" text-anchor="middle" font-weight="normal" fill="#231f20" stroke="#231f20" stroke-width="0.22">2</text>
<line x1="439.28" y1="533.60" x2="439.28" y2="536.60" stroke="#231f20" stroke-width="0.92" stroke-linecap="butt"/>
<text x="439.28" y="546.50" font-size="9.7" text-anchor="middle" font-weight="normal" fill="#231f20" stroke="#231f20" stroke-width="0.22">4</text>
<line x1="463.62" y1="533.60" x2="463.62" y2="536.60" stroke="#231f20" stroke-width="0.92" stroke-linecap="butt"/>
<text x="463.62" y="546.50" font-size="9.7" text-anchor="middle" font-weight="normal" fill="#231f20" stroke="#231f20" stroke-width="0.22">6</text>
<line x1="487.96" y1="533.60" x2="487.96" y2="536.60" stroke="#231f20" stroke-width="0.92" stroke-linecap="butt"/>
<text x="487.96" y="546.50" font-size="9.7" text-anchor="middle" font-weight="normal" fill="#231f20" stroke="#231f20" stroke-width="0.22">8</text>
<line x1="512.30" y1="533.60" x2="512.30" y2="536.60" stroke="#231f20" stroke-width="0.92" stroke-linecap="butt"/>
<text x="512.30" y="546.50" font-size="9.7" text-anchor="middle" font-weight="normal" fill="#231f20" stroke="#231f20" stroke-width="0.22">10</text>
<line x1="387.60" y1="533.60" x2="390.60" y2="533.60" stroke="#231f20" stroke-width="0.92" stroke-linecap="butt"/>
<text x="384.20" y="537.10" font-size="9.7" text-anchor="end" font-weight="normal" fill="#231f20" stroke="#231f20" stroke-width="0.22">0</text>
<line x1="387.60" y1="513.40" x2="390.60" y2="513.40" stroke="#231f20" stroke-width="0.92" stroke-linecap="butt"/>
<text x="384.20" y="516.90" font-size="9.7" text-anchor="end" font-weight="normal" fill="#231f20" stroke="#231f20" stroke-width="0.22">2</text>
<line x1="387.60" y1="493.20" x2="390.60" y2="493.20" stroke="#231f20" stroke-width="0.92" stroke-linecap="butt"/>
<text x="384.20" y="496.70" font-size="9.7" text-anchor="end" font-weight="normal" fill="#231f20" stroke="#231f20" stroke-width="0.22">4</text>
<line x1="387.60" y1="473.00" x2="390.60" y2="473.00" stroke="#231f20" stroke-width="0.92" stroke-linecap="butt"/>
<text x="384.20" y="476.50" font-size="9.7" text-anchor="end" font-weight="normal" fill="#231f20" stroke="#231f20" stroke-width="0.22">6</text>
<line x1="387.60" y1="452.80" x2="390.60" y2="452.80" stroke="#231f20" stroke-width="0.92" stroke-linecap="butt"/>
<text x="384.20" y="456.30" font-size="9.7" text-anchor="end" font-weight="normal" fill="#231f20" stroke="#231f20" stroke-width="0.22">8</text>
<text x="449.40" y="440.10" font-size="9.7" text-anchor="middle" font-weight="normal" fill="#231f20" stroke="#231f20" stroke-width="0.22">Inflammatory monocytes</text>
<text x="450.90" y="559.70" font-size="9.7" text-anchor="middle" font-weight="normal" fill="#231f20" stroke="#231f20" stroke-width="0.22">Days post infection</text>
<text x="374.10" y="492.60" font-size="9.7" text-anchor="middle" font-weight="normal" fill="#231f20" stroke="#231f20" stroke-width="0.22" transform="rotate(-90 374.10 492.60)">Cells x 10<tspan font-size="6.8" dy="-3.8">6</tspan></text>
<polyline points="390.95,532.49 415.06,516.17 463.77,458.17 487.88,467.21" fill="none" stroke="#231f20" stroke-width="0.88" stroke-dasharray="7 2.8"/>
<polyline points="390.95,532.24 415.06,519.68 463.77,517.42 487.88,515.92" fill="none" stroke="#231f20" stroke-width="0.88" stroke-dasharray="7 2.8"/>
<line x1="415.06" y1="510.39" x2="415.06" y2="516.17" stroke="#231f20" stroke-width="0.88" stroke-linecap="butt"/>
<line x1="411.86" y1="510.39" x2="418.26" y2="510.39" stroke="#231f20" stroke-width="0.88" stroke-linecap="butt"/>
<line x1="487.88" y1="461.43" x2="487.88" y2="472.73" stroke="#231f20" stroke-width="0.88" stroke-linecap="butt"/>
<line x1="484.68" y1="461.43" x2="491.08" y2="461.43" stroke="#231f20" stroke-width="0.88" stroke-linecap="butt"/>
<line x1="484.68" y1="472.73" x2="491.08" y2="472.73" stroke="#231f20" stroke-width="0.88" stroke-linecap="butt"/>
<line x1="487.88" y1="506.63" x2="487.88" y2="524.96" stroke="#231f20" stroke-width="0.88" stroke-linecap="butt"/>
<line x1="484.68" y1="506.63" x2="491.08" y2="506.63" stroke="#231f20" stroke-width="0.88" stroke-linecap="butt"/>
<line x1="484.68" y1="524.96" x2="491.08" y2="524.96" stroke="#231f20" stroke-width="0.88" stroke-linecap="butt"/>
<polygon points="390.95,529.08 394.20,535.28 387.70,535.28" fill="#fff" stroke="#231f20" stroke-width="1.0" stroke-linejoin="miter"/>
<polygon points="415.06,512.76 418.31,518.96 411.81,518.96" fill="#fff" stroke="#231f20" stroke-width="1.0" stroke-linejoin="miter"/>
<polygon points="463.77,454.76 467.02,460.96 460.52,460.96" fill="#fff" stroke="#231f20" stroke-width="1.0" stroke-linejoin="miter"/>
<polygon points="487.88,463.80 491.13,470.00 484.63,470.00" fill="#fff" stroke="#231f20" stroke-width="1.0" stroke-linejoin="miter"/>
<polygon points="390.95,528.83 394.20,535.03 387.70,535.03" fill="#231f20" stroke="#231f20" stroke-width="1.0" stroke-linejoin="miter"/>
<polygon points="415.06,516.27 418.31,522.47 411.81,522.47" fill="#231f20" stroke="#231f20" stroke-width="1.0" stroke-linejoin="miter"/>
<polygon points="463.77,514.01 467.02,520.21 460.52,520.21" fill="#231f20" stroke="#231f20" stroke-width="1.0" stroke-linejoin="miter"/>
<polygon points="487.88,512.51 491.13,518.71 484.63,518.71" fill="#231f20" stroke="#231f20" stroke-width="1.0" stroke-linejoin="miter"/>
<text x="463.30" y="454.03" font-size="8.6" text-anchor="middle" font-weight="bold" fill="#231f20" letter-spacing="0.35">**</text>
<text x="487.90" y="460.83" font-size="8.6" text-anchor="middle" font-weight="bold" fill="#231f20" letter-spacing="0.35">**</text>
<text x="505.40" y="494.23" font-size="8.6" text-anchor="middle" font-weight="bold" fill="#231f20" letter-spacing="0.35">***</text>
<line x1="42.50" y1="596.95" x2="42.50" y2="679.25" stroke="#231f20" stroke-width="0.92" stroke-linecap="butt"/>
<line x1="42.05" y1="678.80" x2="165.45" y2="678.80" stroke="#231f20" stroke-width="0.92" stroke-linecap="butt"/>
<line x1="42.50" y1="678.80" x2="42.50" y2="681.80" stroke="#231f20" stroke-width="0.92" stroke-linecap="butt"/>
<text x="42.50" y="692.20" font-size="9.7" text-anchor="middle" font-weight="normal" fill="#231f20" stroke="#231f20" stroke-width="0.22">0</text>
<line x1="73.20" y1="678.80" x2="73.20" y2="681.80" stroke="#231f20" stroke-width="0.92" stroke-linecap="butt"/>
<text x="73.20" y="692.20" font-size="9.7" text-anchor="middle" font-weight="normal" fill="#231f20" stroke="#231f20" stroke-width="0.22">5</text>
<line x1="103.90" y1="678.80" x2="103.90" y2="681.80" stroke="#231f20" stroke-width="0.92" stroke-linecap="butt"/>
<text x="103.90" y="692.20" font-size="9.7" text-anchor="middle" font-weight="normal" fill="#231f20" stroke="#231f20" stroke-width="0.22">10</text>
<line x1="134.60" y1="678.80" x2="134.60" y2="681.80" stroke="#231f20" stroke-width="0.92" stroke-linecap="butt"/>
<text x="134.60" y="692.20" font-size="9.7" text-anchor="middle" font-weight="normal" fill="#231f20" stroke="#231f20" stroke-width="0.22">15</text>
<line x1="165.30" y1="678.80" x2="165.30" y2="681.80" stroke="#231f20" stroke-width="0.92" stroke-linecap="butt"/>
<text x="165.30" y="692.20" font-size="9.7" text-anchor="middle" font-weight="normal" fill="#231f20" stroke="#231f20" stroke-width="0.22">20</text>
<line x1="39.50" y1="678.80" x2="42.50" y2="678.80" stroke="#231f20" stroke-width="0.92" stroke-linecap="butt"/>
<text x="36.10" y="682.30" font-size="9.7" text-anchor="end" font-weight="normal" fill="#231f20" stroke="#231f20" stroke-width="0.22">0</text>
<line x1="39.50" y1="662.52" x2="42.50" y2="662.52" stroke="#231f20" stroke-width="0.92" stroke-linecap="butt"/>
<text x="36.10" y="666.02" font-size="9.7" text-anchor="end" font-weight="normal" fill="#231f20" stroke="#231f20" stroke-width="0.22">20</text>
<line x1="39.50" y1="646.24" x2="42.50" y2="646.24" stroke="#231f20" stroke-width="0.92" stroke-linecap="butt"/>
<text x="36.10" y="649.74" font-size="9.7" text-anchor="end" font-weight="normal" fill="#231f20" stroke="#231f20" stroke-width="0.22">40</text>
<line x1="39.50" y1="629.96" x2="42.50" y2="629.96" stroke="#231f20" stroke-width="0.92" stroke-linecap="butt"/>
<text x="36.10" y="633.46" font-size="9.7" text-anchor="end" font-weight="normal" fill="#231f20" stroke="#231f20" stroke-width="0.22">60</text>
<line x1="39.50" y1="613.68" x2="42.50" y2="613.68" stroke="#231f20" stroke-width="0.92" stroke-linecap="butt"/>
<text x="36.10" y="617.18" font-size="9.7" text-anchor="end" font-weight="normal" fill="#231f20" stroke="#231f20" stroke-width="0.22">80</text>
<line x1="39.50" y1="597.40" x2="42.50" y2="597.40" stroke="#231f20" stroke-width="0.92" stroke-linecap="butt"/>
<text x="36.10" y="600.90" font-size="9.7" text-anchor="end" font-weight="normal" fill="#231f20" stroke="#231f20" stroke-width="0.22">100</text>
<line x1="42.00" y1="678.80" x2="165.90" y2="678.80" stroke="#858585" stroke-width="1.7" stroke-linecap="butt"/>
<line x1="42.50" y1="677.20" x2="42.50" y2="681.00" stroke="#555" stroke-width="0.9" stroke-linecap="butt"/>
<line x1="73.20" y1="677.20" x2="73.20" y2="681.00" stroke="#555" stroke-width="0.9" stroke-linecap="butt"/>
<line x1="103.90" y1="677.20" x2="103.90" y2="681.00" stroke="#555" stroke-width="0.9" stroke-linecap="butt"/>
<line x1="134.60" y1="677.20" x2="134.60" y2="681.00" stroke="#555" stroke-width="0.9" stroke-linecap="butt"/>
<line x1="165.30" y1="677.20" x2="165.30" y2="681.00" stroke="#555" stroke-width="0.9" stroke-linecap="butt"/>
<text x="104.20" y="585.60" font-size="9.7" text-anchor="middle" font-weight="normal" fill="#231f20" stroke="#231f20" stroke-width="0.22">Gr-1 depletion</text>
<text x="103.60" y="705.20" font-size="9.7" text-anchor="middle" font-weight="normal" fill="#231f20" stroke="#231f20" stroke-width="0.22">Days post infection</text>
<text x="14.70" y="636.00" font-size="9.7" text-anchor="middle" font-weight="normal" fill="#231f20" stroke="#231f20" stroke-width="0.22" transform="rotate(-90 14.70 636.00)">% Survival</text>
<polyline points="42.60,597.20 97.60,597.20" fill="none" stroke="#231f20" stroke-width="0.9" stroke-dasharray="7 2.8"/>
<line x1="97.60" y1="600.20" x2="97.60" y2="609.20" stroke="#231f20" stroke-width="0.9" stroke-linecap="butt"/>
<line x1="85.20" y1="601.40" x2="85.20" y2="607.00" stroke="#231f20" stroke-width="0.9" stroke-linecap="butt"/>
<polyline points="88.60,609.90 91.50,609.90 91.50,613.40" fill="none" stroke="#231f20" stroke-width="0.9"/>
<line x1="91.50" y1="618.60" x2="91.50" y2="625.20" stroke="#231f20" stroke-width="0.9" stroke-linecap="butt"/>
<line x1="91.50" y1="631.00" x2="91.50" y2="635.00" stroke="#231f20" stroke-width="0.9" stroke-linecap="butt"/>
<polyline points="94.00,638.40 97.80,638.40 97.80,643.20" fill="none" stroke="#231f20" stroke-width="0.9"/>
<polyline points="100.50,613.70 125.00,613.70" fill="none" stroke="#231f20" stroke-width="0.9" stroke-dasharray="7.5 3"/>
<line x1="103.70" y1="618.40" x2="103.70" y2="626.20" stroke="#231f20" stroke-width="0.9" stroke-linecap="butt"/>
<line x1="103.70" y1="629.00" x2="103.70" y2="637.20" stroke="#231f20" stroke-width="0.9" stroke-linecap="butt"/>
<line x1="103.70" y1="640.00" x2="103.70" y2="644.00" stroke="#231f20" stroke-width="0.9" stroke-linecap="butt"/>
<line x1="105.20" y1="651.60" x2="112.80" y2="651.60" stroke="#231f20" stroke-width="0.9" stroke-linecap="butt"/>
<line x1="109.90" y1="647.80" x2="109.90" y2="654.40" stroke="#231f20" stroke-width="0.9" stroke-linecap="butt"/>
<line x1="116.00" y1="652.40" x2="116.00" y2="659.60" stroke="#231f20" stroke-width="0.9" stroke-linecap="butt"/>
<line x1="119.30" y1="662.40" x2="125.10" y2="662.40" stroke="#231f20" stroke-width="0.9" stroke-linecap="butt"/>
<line x1="119.30" y1="665.20" x2="122.40" y2="665.20" stroke="#231f20" stroke-width="0.9" stroke-linecap="butt"/>
<polygon points="97.80,610.29 101.05,616.49 94.55,616.49" fill="#231f20" stroke="#231f20" stroke-width="1.0" stroke-linejoin="miter"/>
<polygon points="128.30,610.29 131.55,616.49 125.05,616.49" fill="#231f20" stroke="#231f20" stroke-width="1.0" stroke-linejoin="miter"/>
<polygon points="104.00,643.19 107.25,649.39 100.75,649.39" fill="#fff" stroke="#231f20" stroke-width="1.0" stroke-linejoin="miter"/>
<polygon points="109.90,659.59 113.15,665.79 106.65,665.79" fill="#fff" stroke="#231f20" stroke-width="1.0" stroke-linejoin="miter"/>
<polygon points="128.30,658.99 131.55,665.19 125.05,665.19" fill="#fff" stroke="#231f20" stroke-width="1.0" stroke-linejoin="miter"/>
<polygon points="85.20,607.80 88.20,610.80 85.20,613.80 82.20,610.80" fill="#fff" stroke="#231f20" stroke-width="1.0"/>
<polygon points="91.10,635.00 94.10,638.00 91.10,641.00 88.10,638.00" fill="#fff" stroke="#231f20" stroke-width="1.0"/>
<polygon points="97.60,648.90 100.60,651.90 97.60,654.90 94.60,651.90" fill="#fff" stroke="#231f20" stroke-width="1.0"/>
<polygon points="116.00,662.40 119.00,665.40 116.00,668.40 113.00,665.40" fill="#fff" stroke="#231f20" stroke-width="1.0"/>
<polygon points="128.30,662.40 131.30,665.40 128.30,668.40 125.30,665.40" fill="#fff" stroke="#231f20" stroke-width="1.0"/>
<line x1="44.20" y1="653.60" x2="49.50" y2="653.60" stroke="#231f20" stroke-width="0.9" stroke-linecap="butt"/>
<polygon points="49.50,650.19 52.50,656.39 46.50,656.39" fill="#fff" stroke="#231f20" stroke-width="1.0" stroke-linejoin="miter"/>
<text x="56.10" y="655.10" font-size="8.4" text-anchor="start" font-weight="normal" fill="#231f20" stroke="#231f20" stroke-width="0.22">IgG2b</text>
<line x1="44.20" y1="663.10" x2="49.40" y2="663.10" stroke="#231f20" stroke-width="0.9" stroke-linecap="butt"/>
<polygon points="49.40,659.91 52.30,665.71 46.50,665.71" fill="#231f20" stroke="#231f20" stroke-width="1.0" stroke-linejoin="miter"/>
<text x="56.10" y="665.20" font-size="8.4" text-anchor="start" font-weight="normal" fill="#231f20" stroke="#231f20" stroke-width="0.22">RB6-8C5</text>
<line x1="44.20" y1="671.80" x2="49.40" y2="671.80" stroke="#231f20" stroke-width="0.9" stroke-linecap="butt"/>
<polygon points="49.40,668.70 52.50,671.80 49.40,674.90 46.30,671.80" fill="#fff" stroke="#231f20" stroke-width="0.9"/>
<text x="56.60" y="674.70" font-size="8.4" text-anchor="start" font-weight="normal" fill="#231f20" stroke="#231f20" stroke-width="0.22">1A8</text>
<circle cx="153.90" cy="634.50" r="1.25" fill="none" stroke="#666" stroke-width="0.8"/>
<line x1="212.50" y1="596.55" x2="212.50" y2="678.45" stroke="#231f20" stroke-width="0.92" stroke-linecap="butt"/>
<line x1="212.05" y1="678.00" x2="335.15" y2="678.00" stroke="#231f20" stroke-width="0.92" stroke-linecap="butt"/>
<line x1="212.50" y1="678.00" x2="212.50" y2="681.00" stroke="#231f20" stroke-width="0.92" stroke-linecap="butt"/>
<text x="212.50" y="691.90" font-size="9.7" text-anchor="middle" font-weight="normal" fill="#231f20" stroke="#231f20" stroke-width="0.22">0</text>
<line x1="243.05" y1="678.00" x2="243.05" y2="681.00" stroke="#231f20" stroke-width="0.92" stroke-linecap="butt"/>
<text x="243.05" y="691.90" font-size="9.7" text-anchor="middle" font-weight="normal" fill="#231f20" stroke="#231f20" stroke-width="0.22">5</text>
<line x1="273.60" y1="678.00" x2="273.60" y2="681.00" stroke="#231f20" stroke-width="0.92" stroke-linecap="butt"/>
<text x="273.60" y="691.90" font-size="9.7" text-anchor="middle" font-weight="normal" fill="#231f20" stroke="#231f20" stroke-width="0.22">10</text>
<line x1="304.15" y1="678.00" x2="304.15" y2="681.00" stroke="#231f20" stroke-width="0.92" stroke-linecap="butt"/>
<text x="304.15" y="691.90" font-size="9.7" text-anchor="middle" font-weight="normal" fill="#231f20" stroke="#231f20" stroke-width="0.22">15</text>
<line x1="334.70" y1="678.00" x2="334.70" y2="681.00" stroke="#231f20" stroke-width="0.92" stroke-linecap="butt"/>
<text x="334.70" y="691.90" font-size="9.7" text-anchor="middle" font-weight="normal" fill="#231f20" stroke="#231f20" stroke-width="0.22">20</text>
<line x1="209.50" y1="678.00" x2="212.50" y2="678.00" stroke="#231f20" stroke-width="0.92" stroke-linecap="butt"/>
<text x="206.10" y="681.50" font-size="9.7" text-anchor="end" font-weight="normal" fill="#231f20" stroke="#231f20" stroke-width="0.22">70</text>
<line x1="209.50" y1="657.75" x2="212.50" y2="657.75" stroke="#231f20" stroke-width="0.92" stroke-linecap="butt"/>
<text x="206.10" y="661.25" font-size="9.7" text-anchor="end" font-weight="normal" fill="#231f20" stroke="#231f20" stroke-width="0.22">80</text>
<line x1="209.50" y1="637.50" x2="212.50" y2="637.50" stroke="#231f20" stroke-width="0.92" stroke-linecap="butt"/>
<text x="206.10" y="641.00" font-size="9.7" text-anchor="end" font-weight="normal" fill="#231f20" stroke="#231f20" stroke-width="0.22">90</text>
<line x1="209.50" y1="617.25" x2="212.50" y2="617.25" stroke="#231f20" stroke-width="0.92" stroke-linecap="butt"/>
<text x="206.10" y="620.75" font-size="9.7" text-anchor="end" font-weight="normal" fill="#231f20" stroke="#231f20" stroke-width="0.22">100</text>
<line x1="209.50" y1="597.00" x2="212.50" y2="597.00" stroke="#231f20" stroke-width="0.92" stroke-linecap="butt"/>
<text x="206.10" y="600.50" font-size="9.7" text-anchor="end" font-weight="normal" fill="#231f20" stroke="#231f20" stroke-width="0.22">110</text>
<text x="274.40" y="585.60" font-size="9.7" text-anchor="middle" font-weight="normal" fill="#231f20" stroke="#231f20" stroke-width="0.22">Gr-1 depletion</text>
<text x="274.00" y="704.90" font-size="9.7" text-anchor="middle" font-weight="normal" fill="#231f20" stroke="#231f20" stroke-width="0.22">Days post infection</text>
<text x="184.30" y="639.30" font-size="9.7" text-anchor="middle" font-weight="normal" fill="#231f20" stroke="#231f20" stroke-width="0.22" transform="rotate(-90 184.30 639.30)">% Of starting weight</text>
<polyline points="212.59,617.63 218.43,617.19 224.71,613.98 230.99,630.47 236.82,640.26 242.96,638.80 249.09,648.28 255.07,656.31 261.20,647.85 267.48,647.55 273.61,634.12 285.29,626.09 291.42,620.99 297.70,621.72" fill="none" stroke="#231f20" stroke-width="0.88" stroke-dasharray="7 2.8"/>
<polyline points="212.59,618.07 218.43,617.63 223.98,618.36 230.55,625.66 236.82,631.50 243.25,635.15 249.09,646.39 255.36,657.04 261.20,659.96 267.48,663.61 273.61,663.61 285.29,635.88 291.42,630.04 297.70,629.31" fill="none" stroke="#231f20" stroke-width="0.88" stroke-dasharray="7 2.8"/>
<polyline points="212.59,618.07 218.43,617.63 223.98,619.09 230.99,626.39 236.82,630.47 242.96,635.88 249.09,647.26 255.36,659.23 261.20,661.42 267.48,668.72 273.61,666.53 285.29,649.74 291.42,630.33 298.14,628.87" fill="none" stroke="#231f20" stroke-width="0.88" stroke-dasharray="7 2.8"/>
<line x1="224.71" y1="609.16" x2="224.71" y2="618.36" stroke="#231f20" stroke-width="0.88" stroke-linecap="butt"/>
<line x1="221.51" y1="609.16" x2="227.91" y2="609.16" stroke="#231f20" stroke-width="0.88" stroke-linecap="butt"/>
<line x1="221.51" y1="618.36" x2="227.91" y2="618.36" stroke="#231f20" stroke-width="0.88" stroke-linecap="butt"/>
<line x1="236.82" y1="626.39" x2="236.82" y2="631.50" stroke="#231f20" stroke-width="0.88" stroke-linecap="butt"/>
<line x1="233.62" y1="626.39" x2="240.02" y2="626.39" stroke="#231f20" stroke-width="0.88" stroke-linecap="butt"/>
<line x1="233.62" y1="631.50" x2="240.02" y2="631.50" stroke="#231f20" stroke-width="0.88" stroke-linecap="butt"/>
<line x1="243.25" y1="630.77" x2="243.25" y2="638.80" stroke="#231f20" stroke-width="0.88" stroke-linecap="butt"/>
<line x1="240.05" y1="630.77" x2="246.45" y2="630.77" stroke="#231f20" stroke-width="0.88" stroke-linecap="butt"/>
<line x1="240.05" y1="638.80" x2="246.45" y2="638.80" stroke="#231f20" stroke-width="0.88" stroke-linecap="butt"/>
<line x1="249.09" y1="642.45" x2="249.09" y2="651.93" stroke="#231f20" stroke-width="0.88" stroke-linecap="butt"/>
<line x1="245.89" y1="642.45" x2="252.29" y2="642.45" stroke="#231f20" stroke-width="0.88" stroke-linecap="butt"/>
<line x1="245.89" y1="651.93" x2="252.29" y2="651.93" stroke="#231f20" stroke-width="0.88" stroke-linecap="butt"/>
<line x1="255.07" y1="650.47" x2="255.07" y2="662.15" stroke="#231f20" stroke-width="0.88" stroke-linecap="butt"/>
<line x1="251.87" y1="650.47" x2="258.27" y2="650.47" stroke="#231f20" stroke-width="0.88" stroke-linecap="butt"/>
<line x1="251.87" y1="662.15" x2="258.27" y2="662.15" stroke="#231f20" stroke-width="0.88" stroke-linecap="butt"/>
<line x1="261.20" y1="640.99" x2="261.20" y2="654.12" stroke="#231f20" stroke-width="0.88" stroke-linecap="butt"/>
<line x1="258.00" y1="640.99" x2="264.40" y2="640.99" stroke="#231f20" stroke-width="0.88" stroke-linecap="butt"/>
<line x1="258.00" y1="654.12" x2="264.40" y2="654.12" stroke="#231f20" stroke-width="0.88" stroke-linecap="butt"/>
<line x1="267.48" y1="642.01" x2="267.48" y2="653.39" stroke="#231f20" stroke-width="0.88" stroke-linecap="butt"/>
<line x1="264.28" y1="642.01" x2="270.68" y2="642.01" stroke="#231f20" stroke-width="0.88" stroke-linecap="butt"/>
<line x1="264.28" y1="653.39" x2="270.68" y2="653.39" stroke="#231f20" stroke-width="0.88" stroke-linecap="butt"/>
<line x1="273.61" y1="626.39" x2="273.61" y2="640.99" stroke="#231f20" stroke-width="0.88" stroke-linecap="butt"/>
<line x1="270.41" y1="626.39" x2="276.81" y2="626.39" stroke="#231f20" stroke-width="0.88" stroke-linecap="butt"/>
<line x1="270.41" y1="640.99" x2="276.81" y2="640.99" stroke="#231f20" stroke-width="0.88" stroke-linecap="butt"/>
<line x1="285.29" y1="621.28" x2="285.29" y2="629.31" stroke="#231f20" stroke-width="0.88" stroke-linecap="butt"/>
<line x1="282.09" y1="621.28" x2="288.49" y2="621.28" stroke="#231f20" stroke-width="0.88" stroke-linecap="butt"/>
<line x1="282.09" y1="629.31" x2="288.49" y2="629.31" stroke="#231f20" stroke-width="0.88" stroke-linecap="butt"/>
<line x1="267.48" y1="659.23" x2="267.48" y2="673.83" stroke="#231f20" stroke-width="0.88" stroke-linecap="butt"/>
<line x1="264.28" y1="659.23" x2="270.68" y2="659.23" stroke="#231f20" stroke-width="0.88" stroke-linecap="butt"/>
<line x1="264.28" y1="673.83" x2="270.68" y2="673.83" stroke="#231f20" stroke-width="0.88" stroke-linecap="butt"/>
<line x1="273.61" y1="656.31" x2="273.61" y2="672.37" stroke="#231f20" stroke-width="0.88" stroke-linecap="butt"/>
<line x1="270.41" y1="656.31" x2="276.81" y2="656.31" stroke="#231f20" stroke-width="0.88" stroke-linecap="butt"/>
<line x1="270.41" y1="672.37" x2="276.81" y2="672.37" stroke="#231f20" stroke-width="0.88" stroke-linecap="butt"/>
<line x1="285.29" y1="641.72" x2="285.29" y2="659.23" stroke="#231f20" stroke-width="0.88" stroke-linecap="butt"/>
<line x1="282.09" y1="641.72" x2="288.49" y2="641.72" stroke="#231f20" stroke-width="0.88" stroke-linecap="butt"/>
<line x1="282.09" y1="659.23" x2="288.49" y2="659.23" stroke="#231f20" stroke-width="0.88" stroke-linecap="butt"/>
<line x1="291.42" y1="626.39" x2="291.42" y2="637.34" stroke="#231f20" stroke-width="0.88" stroke-linecap="butt"/>
<line x1="288.22" y1="626.39" x2="294.62" y2="626.39" stroke="#231f20" stroke-width="0.88" stroke-linecap="butt"/>
<line x1="288.22" y1="637.34" x2="294.62" y2="637.34" stroke="#231f20" stroke-width="0.88" stroke-linecap="butt"/>
<line x1="297.70" y1="624.93" x2="297.70" y2="635.15" stroke="#231f20" stroke-width="0.88" stroke-linecap="butt"/>
<line x1="294.50" y1="624.93" x2="300.90" y2="624.93" stroke="#231f20" stroke-width="0.88" stroke-linecap="butt"/>
<line x1="294.50" y1="635.15" x2="300.90" y2="635.15" stroke="#231f20" stroke-width="0.88" stroke-linecap="butt"/>
<line x1="261.20" y1="656.31" x2="261.20" y2="666.53" stroke="#231f20" stroke-width="0.88" stroke-linecap="butt"/>
<line x1="258.00" y1="656.31" x2="264.40" y2="656.31" stroke="#231f20" stroke-width="0.88" stroke-linecap="butt"/>
<line x1="258.00" y1="666.53" x2="264.40" y2="666.53" stroke="#231f20" stroke-width="0.88" stroke-linecap="butt"/>
<polygon points="212.59,615.07 215.59,618.07 212.59,621.07 209.59,618.07" fill="#fff" stroke="#231f20" stroke-width="1.0"/>
<polygon points="218.43,614.63 221.43,617.63 218.43,620.63 215.43,617.63" fill="#fff" stroke="#231f20" stroke-width="1.0"/>
<polygon points="223.98,616.09 226.98,619.09 223.98,622.09 220.98,619.09" fill="#fff" stroke="#231f20" stroke-width="1.0"/>
<polygon points="230.99,623.39 233.99,626.39 230.99,629.39 227.99,626.39" fill="#fff" stroke="#231f20" stroke-width="1.0"/>
<polygon points="236.82,627.47 239.82,630.47 236.82,633.47 233.82,630.47" fill="#fff" stroke="#231f20" stroke-width="1.0"/>
<polygon points="242.96,632.88 245.96,635.88 242.96,638.88 239.96,635.88" fill="#fff" stroke="#231f20" stroke-width="1.0"/>
<polygon points="249.09,644.26 252.09,647.26 249.09,650.26 246.09,647.26" fill="#fff" stroke="#231f20" stroke-width="1.0"/>
<polygon points="255.36,656.23 258.36,659.23 255.36,662.23 252.36,659.23" fill="#fff" stroke="#231f20" stroke-width="1.0"/>
<polygon points="261.20,658.42 264.20,661.42 261.20,664.42 258.20,661.42" fill="#fff" stroke="#231f20" stroke-width="1.0"/>
<polygon points="267.48,665.72 270.48,668.72 267.48,671.72 264.48,668.72" fill="#fff" stroke="#231f20" stroke-width="1.0"/>
<polygon points="273.61,663.53 276.61,666.53 273.61,669.53 270.61,666.53" fill="#fff" stroke="#231f20" stroke-width="1.0"/>
<polygon points="285.29,646.74 288.29,649.74 285.29,652.74 282.29,649.74" fill="#fff" stroke="#231f20" stroke-width="1.0"/>
<polygon points="291.42,627.33 294.42,630.33 291.42,633.33 288.42,630.33" fill="#fff" stroke="#231f20" stroke-width="1.0"/>
<polygon points="298.14,625.87 301.14,628.87 298.14,631.87 295.14,628.87" fill="#fff" stroke="#231f20" stroke-width="1.0"/>
<polygon points="212.59,614.66 215.84,620.86 209.34,620.86" fill="#fff" stroke="#231f20" stroke-width="1.0" stroke-linejoin="miter"/>
<polygon points="218.43,614.22 221.68,620.42 215.18,620.42" fill="#fff" stroke="#231f20" stroke-width="1.0" stroke-linejoin="miter"/>
<polygon points="223.98,614.95 227.23,621.15 220.73,621.15" fill="#fff" stroke="#231f20" stroke-width="1.0" stroke-linejoin="miter"/>
<polygon points="230.55,622.25 233.80,628.45 227.30,628.45" fill="#fff" stroke="#231f20" stroke-width="1.0" stroke-linejoin="miter"/>
<polygon points="236.82,628.09 240.07,634.29 233.57,634.29" fill="#fff" stroke="#231f20" stroke-width="1.0" stroke-linejoin="miter"/>
<polygon points="243.25,631.74 246.50,637.94 240.00,637.94" fill="#fff" stroke="#231f20" stroke-width="1.0" stroke-linejoin="miter"/>
<polygon points="249.09,642.98 252.34,649.18 245.84,649.18" fill="#fff" stroke="#231f20" stroke-width="1.0" stroke-linejoin="miter"/>
<polygon points="255.36,653.63 258.61,659.83 252.11,659.83" fill="#fff" stroke="#231f20" stroke-width="1.0" stroke-linejoin="miter"/>
<polygon points="261.20,656.55 264.45,662.75 257.95,662.75" fill="#fff" stroke="#231f20" stroke-width="1.0" stroke-linejoin="miter"/>
<polygon points="267.48,660.20 270.73,666.40 264.23,666.40" fill="#fff" stroke="#231f20" stroke-width="1.0" stroke-linejoin="miter"/>
<polygon points="273.61,660.20 276.86,666.40 270.36,666.40" fill="#fff" stroke="#231f20" stroke-width="1.0" stroke-linejoin="miter"/>
<polygon points="285.29,632.47 288.54,638.67 282.04,638.67" fill="#fff" stroke="#231f20" stroke-width="1.0" stroke-linejoin="miter"/>
<polygon points="291.42,626.63 294.67,632.83 288.17,632.83" fill="#fff" stroke="#231f20" stroke-width="1.0" stroke-linejoin="miter"/>
<polygon points="297.70,625.90 300.95,632.10 294.45,632.10" fill="#fff" stroke="#231f20" stroke-width="1.0" stroke-linejoin="miter"/>
<polygon points="212.59,614.22 215.84,620.42 209.34,620.42" fill="#231f20" stroke="#231f20" stroke-width="1.0" stroke-linejoin="miter"/>
<polygon points="218.43,613.78 221.68,619.98 215.18,619.98" fill="#231f20" stroke="#231f20" stroke-width="1.0" stroke-linejoin="miter"/>
<polygon points="224.71,610.57 227.96,616.77 221.46,616.77" fill="#231f20" stroke="#231f20" stroke-width="1.0" stroke-linejoin="miter"/>
<polygon points="230.99,627.06 234.24,633.26 227.74,633.26" fill="#231f20" stroke="#231f20" stroke-width="1.0" stroke-linejoin="miter"/>
<polygon points="236.82,636.85 240.07,643.05 233.57,643.05" fill="#231f20" stroke="#231f20" stroke-width="1.0" stroke-linejoin="miter"/>
<polygon points="242.96,635.39 246.21,641.59 239.71,641.59" fill="#231f20" stroke="#231f20" stroke-width="1.0" stroke-linejoin="miter"/>
<polygon points="249.09,644.87 252.34,651.07 245.84,651.07" fill="#231f20" stroke="#231f20" stroke-width="1.0" stroke-linejoin="miter"/>
<polygon points="255.07,652.90 258.32,659.10 251.82,659.10" fill="#231f20" stroke="#231f20" stroke-width="1.0" stroke-linejoin="miter"/>
<polygon points="261.20,644.44 264.45,650.64 257.95,650.64" fill="#231f20" stroke="#231f20" stroke-width="1.0" stroke-linejoin="miter"/>
<polygon points="267.48,644.14 270.73,650.34 264.23,650.34" fill="#231f20" stroke="#231f20" stroke-width="1.0" stroke-linejoin="miter"/>
<polygon points="273.61,630.71 276.86,636.91 270.36,636.91" fill="#231f20" stroke="#231f20" stroke-width="1.0" stroke-linejoin="miter"/>
<polygon points="285.29,622.68 288.54,628.88 282.04,628.88" fill="#231f20" stroke="#231f20" stroke-width="1.0" stroke-linejoin="miter"/>
<polygon points="291.42,617.58 294.67,623.78 288.17,623.78" fill="#231f20" stroke="#231f20" stroke-width="1.0" stroke-linejoin="miter"/>
<polygon points="297.70,618.31 300.95,624.51 294.45,624.51" fill="#231f20" stroke="#231f20" stroke-width="1.0" stroke-linejoin="miter"/>
<text x="273.70" y="625.92" font-size="7.5" text-anchor="middle" font-weight="bold" fill="#231f20" letter-spacing="0.35">**</text>
<circle cx="315.90" cy="611.90" r="1.25" fill="none" stroke="#666" stroke-width="0.8"/>
<text x="315.90" y="626.35" font-size="7" text-anchor="middle" font-weight="bold" fill="#444" letter-spacing="0.35">*</text>
<line x1="388.40" y1="596.85" x2="388.40" y2="678.65" stroke="#231f20" stroke-width="0.92" stroke-linecap="butt"/>
<line x1="387.95" y1="678.20" x2="510.95" y2="678.20" stroke="#231f20" stroke-width="0.92" stroke-linecap="butt"/>
<line x1="388.40" y1="678.20" x2="388.40" y2="681.20" stroke="#231f20" stroke-width="0.92" stroke-linecap="butt"/>
<text x="388.40" y="691.90" font-size="9.7" text-anchor="middle" font-weight="normal" fill="#231f20" stroke="#231f20" stroke-width="0.22">0</text>
<line x1="418.85" y1="678.20" x2="418.85" y2="681.20" stroke="#231f20" stroke-width="0.92" stroke-linecap="butt"/>
<text x="418.85" y="691.90" font-size="9.7" text-anchor="middle" font-weight="normal" fill="#231f20" stroke="#231f20" stroke-width="0.22">5</text>
<line x1="449.30" y1="678.20" x2="449.30" y2="681.20" stroke="#231f20" stroke-width="0.92" stroke-linecap="butt"/>
<text x="449.30" y="691.90" font-size="9.7" text-anchor="middle" font-weight="normal" fill="#231f20" stroke="#231f20" stroke-width="0.22">10</text>
<line x1="479.75" y1="678.20" x2="479.75" y2="681.20" stroke="#231f20" stroke-width="0.92" stroke-linecap="butt"/>
<text x="479.75" y="691.90" font-size="9.7" text-anchor="middle" font-weight="normal" fill="#231f20" stroke="#231f20" stroke-width="0.22">15</text>
<line x1="510.20" y1="678.20" x2="510.20" y2="681.20" stroke="#231f20" stroke-width="0.92" stroke-linecap="butt"/>
<text x="510.20" y="691.90" font-size="9.7" text-anchor="middle" font-weight="normal" fill="#231f20" stroke="#231f20" stroke-width="0.22">20</text>
<line x1="385.40" y1="678.20" x2="388.40" y2="678.20" stroke="#231f20" stroke-width="0.92" stroke-linecap="butt"/>
<text x="382.00" y="681.70" font-size="9.7" text-anchor="end" font-weight="normal" fill="#231f20" stroke="#231f20" stroke-width="0.22">0</text>
<line x1="385.40" y1="662.02" x2="388.40" y2="662.02" stroke="#231f20" stroke-width="0.92" stroke-linecap="butt"/>
<text x="382.00" y="665.52" font-size="9.7" text-anchor="end" font-weight="normal" fill="#231f20" stroke="#231f20" stroke-width="0.22">20</text>
<line x1="385.40" y1="645.84" x2="388.40" y2="645.84" stroke="#231f20" stroke-width="0.92" stroke-linecap="butt"/>
<text x="382.00" y="649.34" font-size="9.7" text-anchor="end" font-weight="normal" fill="#231f20" stroke="#231f20" stroke-width="0.22">40</text>
<line x1="385.40" y1="629.66" x2="388.40" y2="629.66" stroke="#231f20" stroke-width="0.92" stroke-linecap="butt"/>
<text x="382.00" y="633.16" font-size="9.7" text-anchor="end" font-weight="normal" fill="#231f20" stroke="#231f20" stroke-width="0.22">60</text>
<line x1="385.40" y1="613.48" x2="388.40" y2="613.48" stroke="#231f20" stroke-width="0.92" stroke-linecap="butt"/>
<text x="382.00" y="616.98" font-size="9.7" text-anchor="end" font-weight="normal" fill="#231f20" stroke="#231f20" stroke-width="0.22">80</text>
<line x1="385.40" y1="597.30" x2="388.40" y2="597.30" stroke="#231f20" stroke-width="0.92" stroke-linecap="butt"/>
<text x="382.00" y="600.80" font-size="9.7" text-anchor="end" font-weight="normal" fill="#231f20" stroke="#231f20" stroke-width="0.22">100</text>
<text x="452.50" y="585.60" font-size="9.7" text-anchor="middle" font-weight="normal" fill="#231f20" stroke="#231f20" stroke-width="0.22">αAsialo GM1</text>
<text x="450.00" y="704.90" font-size="9.7" text-anchor="middle" font-weight="normal" fill="#231f20" stroke="#231f20" stroke-width="0.22">Days post infection</text>
<text x="361.75" y="636.10" font-size="9.7" text-anchor="middle" font-weight="normal" fill="#231f20" stroke="#231f20" stroke-width="0.22" transform="rotate(-90 361.75 636.10)">% Survival</text>
<polyline points="388.69,597.12 445.69,597.12" fill="none" stroke="#777" stroke-width="0.88" stroke-dasharray="9 2.5"/>
<polyline points="443.18,601.14 443.18,662.91" fill="none" stroke="#444" stroke-width="0.8" stroke-dasharray="6.5 2.6"/>
<polyline points="445.69,598.12 445.69,607.66" fill="none" stroke="#231f20" stroke-width="0.85"/>
<polyline points="448.20,610.18 452.47,610.18 452.47,662.91" fill="none" stroke="#444" stroke-width="0.8" stroke-dasharray="6.5 2.6"/>
<polyline points="454.48,664.91 499.68,664.91" fill="none" stroke="#777" stroke-width="0.88" stroke-dasharray="9 2.5"/>
<polygon points="446.20,606.77 449.45,612.97 442.95,612.97" fill="#231f20" stroke="#231f20" stroke-width="1.0" stroke-linejoin="miter"/>
<polygon points="452.47,661.50 455.72,667.70 449.22,667.70" fill="#231f20" stroke="#231f20" stroke-width="1.0" stroke-linejoin="miter"/>
<polygon points="501.69,661.50 504.94,667.70 498.44,667.70" fill="#231f20" stroke="#231f20" stroke-width="1.0" stroke-linejoin="miter"/>
<polygon points="443.68,661.50 446.93,667.70 440.43,667.70" fill="#fff" stroke="#231f20" stroke-width="1.0" stroke-linejoin="miter"/>
<polygon points="497.67,661.50 500.92,667.70 494.42,667.70" fill="#fff" stroke="#231f20" stroke-width="1.0" stroke-linejoin="miter"/>
<line x1="390.20" y1="663.80" x2="395.00" y2="663.80" stroke="#231f20" stroke-width="0.9" stroke-linecap="butt"/>
<polygon points="395.00,660.61 397.90,666.41 392.10,666.41" fill="#231f20" stroke="#231f20" stroke-width="1.0" stroke-linejoin="miter"/>
<text x="401.40" y="665.10" font-size="8.4" text-anchor="start" font-weight="normal" fill="#231f20" stroke="#231f20" stroke-width="0.22">αAsialo</text>
<line x1="390.20" y1="672.90" x2="395.00" y2="672.90" stroke="#231f20" stroke-width="0.9" stroke-linecap="butt"/>
<polygon points="395.20,669.49 398.20,675.69 392.20,675.69" fill="#fff" stroke="#231f20" stroke-width="1.0" stroke-linejoin="miter"/>
<text x="401.40" y="675.90" font-size="8.4" text-anchor="start" font-weight="normal" fill="#231f20" stroke="#231f20" stroke-width="0.22">Veh ctrl</text>
<line x1="557.60" y1="596.85" x2="557.60" y2="679.55" stroke="#231f20" stroke-width="0.92" stroke-linecap="butt"/>
<line x1="557.15" y1="679.10" x2="680.05" y2="679.10" stroke="#231f20" stroke-width="0.92" stroke-linecap="butt"/>
<line x1="557.60" y1="679.10" x2="557.60" y2="682.10" stroke="#231f20" stroke-width="0.92" stroke-linecap="butt"/>
<text x="557.60" y="691.90" font-size="9.7" text-anchor="middle" font-weight="normal" fill="#231f20" stroke="#231f20" stroke-width="0.22">0</text>
<line x1="588.10" y1="679.10" x2="588.10" y2="682.10" stroke="#231f20" stroke-width="0.92" stroke-linecap="butt"/>
<text x="588.10" y="691.90" font-size="9.7" text-anchor="middle" font-weight="normal" fill="#231f20" stroke="#231f20" stroke-width="0.22">5</text>
<line x1="618.60" y1="679.10" x2="618.60" y2="682.10" stroke="#231f20" stroke-width="0.92" stroke-linecap="butt"/>
<text x="618.60" y="691.90" font-size="9.7" text-anchor="middle" font-weight="normal" fill="#231f20" stroke="#231f20" stroke-width="0.22">10</text>
<line x1="649.10" y1="679.10" x2="649.10" y2="682.10" stroke="#231f20" stroke-width="0.92" stroke-linecap="butt"/>
<text x="649.10" y="691.90" font-size="9.7" text-anchor="middle" font-weight="normal" fill="#231f20" stroke="#231f20" stroke-width="0.22">15</text>
<line x1="679.60" y1="679.10" x2="679.60" y2="682.10" stroke="#231f20" stroke-width="0.92" stroke-linecap="butt"/>
<text x="679.60" y="691.90" font-size="9.7" text-anchor="middle" font-weight="normal" fill="#231f20" stroke="#231f20" stroke-width="0.22">20</text>
<line x1="554.60" y1="679.10" x2="557.60" y2="679.10" stroke="#231f20" stroke-width="0.92" stroke-linecap="butt"/>
<text x="551.20" y="682.60" font-size="9.7" text-anchor="end" font-weight="normal" fill="#231f20" stroke="#231f20" stroke-width="0.22">70</text>
<line x1="554.60" y1="658.65" x2="557.60" y2="658.65" stroke="#231f20" stroke-width="0.92" stroke-linecap="butt"/>
<text x="551.20" y="662.15" font-size="9.7" text-anchor="end" font-weight="normal" fill="#231f20" stroke="#231f20" stroke-width="0.22">80</text>
<line x1="554.60" y1="638.20" x2="557.60" y2="638.20" stroke="#231f20" stroke-width="0.92" stroke-linecap="butt"/>
<text x="551.20" y="641.70" font-size="9.7" text-anchor="end" font-weight="normal" fill="#231f20" stroke="#231f20" stroke-width="0.22">90</text>
<line x1="554.60" y1="617.75" x2="557.60" y2="617.75" stroke="#231f20" stroke-width="0.92" stroke-linecap="butt"/>
<text x="551.20" y="621.25" font-size="9.7" text-anchor="end" font-weight="normal" fill="#231f20" stroke="#231f20" stroke-width="0.22">100</text>
<line x1="554.60" y1="597.30" x2="557.60" y2="597.30" stroke="#231f20" stroke-width="0.92" stroke-linecap="butt"/>
<text x="551.20" y="600.80" font-size="9.7" text-anchor="end" font-weight="normal" fill="#231f20" stroke="#231f20" stroke-width="0.22">110</text>
<text x="617.20" y="585.60" font-size="9.7" text-anchor="middle" font-weight="normal" fill="#231f20" stroke="#231f20" stroke-width="0.22">αAsialo GM1</text>
<text x="618.50" y="704.90" font-size="9.7" text-anchor="middle" font-weight="normal" fill="#231f20" stroke="#231f20" stroke-width="0.22">Days post infection</text>
<text x="529.20" y="637.30" font-size="9.7" text-anchor="middle" font-weight="normal" fill="#231f20" stroke="#231f20" stroke-width="0.22" transform="rotate(-90 529.20 637.30)">% Of starting weight</text>
<polyline points="557.60,618.77 563.70,617.75 569.80,619.79 575.90,622.86 582.00,631.04 587.19,637.34 593.76,649.01 600.04,657.04 606.17,664.78 612.01,672.08 618.28,672.37 624.42,673.10 630.55,673.10 636.53,654.56 642.66,647.85 648.80,640.26" fill="none" stroke="#231f20" stroke-width="0.88"/>
<polyline points="648.80,640.26 660.91,632.96 673.32,631.50" fill="none" stroke="#231f20" stroke-width="0.88"/>
<polyline points="557.60,618.77 563.70,614.68 569.80,618.77 575.90,621.84 582.00,627.98 587.63,635.88 594.05,644.64 600.04,653.10 606.17,657.77 612.30,665.80 618.28,666.53 624.42,660.69 630.55,661.86 636.53,674.56 642.66,671.64" fill="none" stroke="#231f20" stroke-width="0.88"/>
<polyline points="648.80,658.80 660.91,645.07 673.32,635.88" fill="none" stroke="#231f20" stroke-width="0.88" stroke-dasharray="7 2.8"/>
<line x1="624.42" y1="650.91" x2="624.42" y2="660.69" stroke="#231f20" stroke-width="0.88" stroke-linecap="butt"/>
<line x1="621.22" y1="650.91" x2="627.62" y2="650.91" stroke="#231f20" stroke-width="0.88" stroke-linecap="butt"/>
<line x1="621.22" y1="660.69" x2="627.62" y2="660.69" stroke="#231f20" stroke-width="0.88" stroke-linecap="butt"/>
<line x1="630.55" y1="648.28" x2="630.55" y2="661.86" stroke="#231f20" stroke-width="0.88" stroke-linecap="butt"/>
<line x1="627.35" y1="648.28" x2="633.75" y2="648.28" stroke="#231f20" stroke-width="0.88" stroke-linecap="butt"/>
<line x1="627.35" y1="661.86" x2="633.75" y2="661.86" stroke="#231f20" stroke-width="0.88" stroke-linecap="butt"/>
<line x1="636.53" y1="644.20" x2="636.53" y2="664.34" stroke="#231f20" stroke-width="0.88" stroke-linecap="butt"/>
<line x1="633.33" y1="644.20" x2="639.73" y2="644.20" stroke="#231f20" stroke-width="0.88" stroke-linecap="butt"/>
<line x1="633.33" y1="664.34" x2="639.73" y2="664.34" stroke="#231f20" stroke-width="0.88" stroke-linecap="butt"/>
<line x1="642.66" y1="641.42" x2="642.66" y2="654.12" stroke="#231f20" stroke-width="0.88" stroke-linecap="butt"/>
<line x1="639.46" y1="641.42" x2="645.86" y2="641.42" stroke="#231f20" stroke-width="0.88" stroke-linecap="butt"/>
<line x1="639.46" y1="654.12" x2="645.86" y2="654.12" stroke="#231f20" stroke-width="0.88" stroke-linecap="butt"/>
<line x1="624.42" y1="666.53" x2="624.42" y2="678.21" stroke="#231f20" stroke-width="0.88" stroke-linecap="butt"/>
<line x1="621.22" y1="666.53" x2="627.62" y2="666.53" stroke="#231f20" stroke-width="0.88" stroke-linecap="butt"/>
<line x1="621.22" y1="678.21" x2="627.62" y2="678.21" stroke="#231f20" stroke-width="0.88" stroke-linecap="butt"/>
<line x1="630.55" y1="666.53" x2="630.55" y2="678.21" stroke="#231f20" stroke-width="0.88" stroke-linecap="butt"/>
<line x1="627.35" y1="666.53" x2="633.75" y2="666.53" stroke="#231f20" stroke-width="0.88" stroke-linecap="butt"/>
<line x1="627.35" y1="678.21" x2="633.75" y2="678.21" stroke="#231f20" stroke-width="0.88" stroke-linecap="butt"/>
<polygon points="557.60,615.36 560.85,621.56 554.35,621.56" fill="#fff" stroke="#231f20" stroke-width="1.0" stroke-linejoin="miter"/>
<polygon points="563.70,614.34 566.95,620.54 560.45,620.54" fill="#fff" stroke="#231f20" stroke-width="1.0" stroke-linejoin="miter"/>
<polygon points="569.80,616.38 573.05,622.58 566.55,622.58" fill="#fff" stroke="#231f20" stroke-width="1.0" stroke-linejoin="miter"/>
<polygon points="575.90,619.45 579.15,625.65 572.65,625.65" fill="#fff" stroke="#231f20" stroke-width="1.0" stroke-linejoin="miter"/>
<polygon points="582.00,627.63 585.25,633.83 578.75,633.83" fill="#fff" stroke="#231f20" stroke-width="1.0" stroke-linejoin="miter"/>
<polygon points="587.19,633.93 590.44,640.13 583.94,640.13" fill="#fff" stroke="#231f20" stroke-width="1.0" stroke-linejoin="miter"/>
<polygon points="593.76,645.60 597.01,651.80 590.51,651.80" fill="#fff" stroke="#231f20" stroke-width="1.0" stroke-linejoin="miter"/>
<polygon points="600.04,653.63 603.29,659.83 596.79,659.83" fill="#fff" stroke="#231f20" stroke-width="1.0" stroke-linejoin="miter"/>
<polygon points="606.17,661.37 609.42,667.57 602.92,667.57" fill="#fff" stroke="#231f20" stroke-width="1.0" stroke-linejoin="miter"/>
<polygon points="612.01,668.67 615.26,674.87 608.76,674.87" fill="#fff" stroke="#231f20" stroke-width="1.0" stroke-linejoin="miter"/>
<polygon points="618.28,668.96 621.53,675.16 615.03,675.16" fill="#fff" stroke="#231f20" stroke-width="1.0" stroke-linejoin="miter"/>
<polygon points="624.42,669.69 627.67,675.89 621.17,675.89" fill="#fff" stroke="#231f20" stroke-width="1.0" stroke-linejoin="miter"/>
<polygon points="630.55,669.69 633.80,675.89 627.30,675.89" fill="#fff" stroke="#231f20" stroke-width="1.0" stroke-linejoin="miter"/>
<polygon points="636.53,651.15 639.78,657.35 633.28,657.35" fill="#fff" stroke="#231f20" stroke-width="1.0" stroke-linejoin="miter"/>
<polygon points="642.66,644.44 645.91,650.64 639.41,650.64" fill="#fff" stroke="#231f20" stroke-width="1.0" stroke-linejoin="miter"/>
<polygon points="648.80,636.85 652.05,643.05 645.55,643.05" fill="#fff" stroke="#231f20" stroke-width="1.0" stroke-linejoin="miter"/>
<polygon points="660.91,629.55 664.16,635.75 657.66,635.75" fill="#fff" stroke="#231f20" stroke-width="1.0" stroke-linejoin="miter"/>
<polygon points="673.32,628.09 676.57,634.29 670.07,634.29" fill="#fff" stroke="#231f20" stroke-width="1.0" stroke-linejoin="miter"/>
<polygon points="557.60,615.36 560.85,621.56 554.35,621.56" fill="#231f20" stroke="#231f20" stroke-width="1.0" stroke-linejoin="miter"/>
<polygon points="563.70,611.27 566.95,617.47 560.45,617.47" fill="#231f20" stroke="#231f20" stroke-width="1.0" stroke-linejoin="miter"/>
<polygon points="569.80,615.36 573.05,621.56 566.55,621.56" fill="#231f20" stroke="#231f20" stroke-width="1.0" stroke-linejoin="miter"/>
<polygon points="575.90,618.43 579.15,624.63 572.65,624.63" fill="#231f20" stroke="#231f20" stroke-width="1.0" stroke-linejoin="miter"/>
<polygon points="582.00,624.57 585.25,630.76 578.75,630.76" fill="#231f20" stroke="#231f20" stroke-width="1.0" stroke-linejoin="miter"/>
<polygon points="587.63,632.47 590.88,638.67 584.38,638.67" fill="#231f20" stroke="#231f20" stroke-width="1.0" stroke-linejoin="miter"/>
<polygon points="594.05,641.23 597.30,647.43 590.80,647.43" fill="#231f20" stroke="#231f20" stroke-width="1.0" stroke-linejoin="miter"/>
<polygon points="600.04,649.69 603.29,655.89 596.79,655.89" fill="#231f20" stroke="#231f20" stroke-width="1.0" stroke-linejoin="miter"/>
<polygon points="606.17,654.36 609.42,660.56 602.92,660.56" fill="#231f20" stroke="#231f20" stroke-width="1.0" stroke-linejoin="miter"/>
<polygon points="612.30,662.39 615.55,668.59 609.05,668.59" fill="#231f20" stroke="#231f20" stroke-width="1.0" stroke-linejoin="miter"/>
<polygon points="618.28,663.12 621.53,669.32 615.03,669.32" fill="#231f20" stroke="#231f20" stroke-width="1.0" stroke-linejoin="miter"/>
<polygon points="624.42,657.28 627.67,663.48 621.17,663.48" fill="#231f20" stroke="#231f20" stroke-width="1.0" stroke-linejoin="miter"/>
<polygon points="630.55,658.45 633.80,664.65 627.30,664.65" fill="#231f20" stroke="#231f20" stroke-width="1.0" stroke-linejoin="miter"/>
<polygon points="636.53,671.15 639.78,677.35 633.28,677.35" fill="#231f20" stroke="#231f20" stroke-width="1.0" stroke-linejoin="miter"/>
<polygon points="642.66,668.23 645.91,674.43 639.41,674.43" fill="#231f20" stroke="#231f20" stroke-width="1.0" stroke-linejoin="miter"/>
<polygon points="648.80,655.39 652.05,661.59 645.55,661.59" fill="#231f20" stroke="#231f20" stroke-width="1.0" stroke-linejoin="miter"/>
<polygon points="660.91,641.66 664.16,647.86 657.66,647.86" fill="#231f20" stroke="#231f20" stroke-width="1.0" stroke-linejoin="miter"/>
<polygon points="673.32,632.47 676.57,638.67 670.07,638.67" fill="#231f20" stroke="#231f20" stroke-width="1.0" stroke-linejoin="miter"/>
<defs><pattern id="chk" x="0.3" y="0.2" width="5.6" height="5.6" patternUnits="userSpaceOnUse">
<rect width="5.6" height="5.6" fill="#fff"/><rect x="2.8" width="2.8" height="2.8" fill="#231f20"/><rect y="2.8" width="2.8" height="2.8" fill="#231f20"/></pattern>
<pattern id="chk2" x="43.8" y="747.6" width="6.2" height="6.2" patternUnits="userSpaceOnUse">
<rect width="6.2" height="6.2" fill="#fff"/><rect x="3.1" width="3.1" height="3.1" fill="#231f20"/><rect y="3.1" width="3.1" height="3.1" fill="#231f20"/></pattern></defs>
<line x1="42.40" y1="745.00" x2="42.40" y2="826.00" stroke="#777" stroke-width="1.7" stroke-linecap="butt"/>
<line x1="41.75" y1="825.50" x2="164.30" y2="825.50" stroke="#231f20" stroke-width="0.92" stroke-linecap="butt"/>
<line x1="39.20" y1="825.50" x2="42.20" y2="825.50" stroke="#231f20" stroke-width="0.92" stroke-linecap="butt"/>
<text x="35.80" y="829.00" font-size="9.7" text-anchor="end" font-weight="normal" fill="#231f20" stroke="#231f20" stroke-width="0.22">0</text>
<line x1="39.20" y1="798.83" x2="42.20" y2="798.83" stroke="#231f20" stroke-width="0.92" stroke-linecap="butt"/>
<text x="35.80" y="802.33" font-size="9.7" text-anchor="end" font-weight="normal" fill="#231f20" stroke="#231f20" stroke-width="0.22">200</text>
<line x1="39.20" y1="772.17" x2="42.20" y2="772.17" stroke="#231f20" stroke-width="0.92" stroke-linecap="butt"/>
<text x="35.80" y="775.67" font-size="9.7" text-anchor="end" font-weight="normal" fill="#231f20" stroke="#231f20" stroke-width="0.22">400</text>
<line x1="39.20" y1="745.50" x2="42.20" y2="745.50" stroke="#231f20" stroke-width="0.92" stroke-linecap="butt"/>
<text x="35.80" y="749.00" font-size="9.7" text-anchor="end" font-weight="normal" fill="#231f20" stroke="#231f20" stroke-width="0.22">600</text>
<text x="102.40" y="735.80" font-size="9.7" text-anchor="middle" font-weight="normal" fill="#231f20" stroke="#231f20" stroke-width="0.22">IFNα</text>
<text x="12.30" y="784.00" font-size="9.7" text-anchor="middle" font-weight="normal" fill="#231f20" stroke="#231f20" stroke-width="0.22" transform="rotate(-90 12.30 784.00)">pg ml<tspan font-size="6.8" dy="-4.2">–1</tspan></text>
<line x1="102.60" y1="755.40" x2="102.60" y2="825.50" stroke="#777" stroke-width="1.1" stroke-linecap="butt"/>
<text x="72.30" y="836.20" font-size="9.7" text-anchor="middle" font-weight="normal" fill="#231f20" stroke="#231f20" stroke-width="0.22">Veh ctrl</text>
<text x="132.00" y="836.20" font-size="9.7" text-anchor="middle" font-weight="normal" fill="#231f20" stroke="#231f20" stroke-width="0.22">X31</text>
<text x="102.80" y="849.60" font-size="9.7" text-anchor="middle" font-weight="normal" fill="#231f20" stroke="#231f20" stroke-width="0.22">Treatment</text>
<line x1="50.40" y1="824.60" x2="59.00" y2="824.60" stroke="#999" stroke-width="0.8" stroke-linecap="butt"/>
<line x1="68.50" y1="824.60" x2="78.00" y2="824.60" stroke="#999" stroke-width="0.8" stroke-linecap="butt"/>
<line x1="85.50" y1="824.60" x2="97.00" y2="824.60" stroke="#999" stroke-width="0.8" stroke-linecap="butt"/>
<line x1="123.50" y1="824.60" x2="135.00" y2="824.60" stroke="#999" stroke-width="0.8" stroke-linecap="butt"/>
<line x1="112.40" y1="772.10" x2="112.40" y2="783.50" stroke="#231f20" stroke-width="0.88" stroke-linecap="butt"/>
<line x1="108.20" y1="772.10" x2="116.60" y2="772.10" stroke="#231f20" stroke-width="0.88" stroke-linecap="butt"/>
<rect x="105.50" y="783.50" width="13.80" height="42.00" fill="#fff" stroke="#231f20" stroke-width="0.9"/>
<line x1="112.40" y1="783.50" x2="112.40" y2="794.90" stroke="#231f20" stroke-width="0.88" stroke-linecap="butt"/>
<line x1="108.20" y1="794.90" x2="116.60" y2="794.90" stroke="#231f20" stroke-width="0.88" stroke-linecap="butt"/>
<line x1="152.25" y1="819.40" x2="152.25" y2="821.50" stroke="#231f20" stroke-width="0.88" stroke-linecap="butt"/>
<line x1="148.65" y1="819.40" x2="155.85" y2="819.40" stroke="#231f20" stroke-width="0.88" stroke-linecap="butt"/>
<rect x="145.30" y="821.50" width="13.90" height="4.00" fill="#231f20" stroke="#231f20" stroke-width="0.9"/>
<rect x="44.0" y="746.0" width="9.5" height="7.0" fill="url(#chk2)" stroke="#231f20" stroke-width="0.8"/>
<rect x="44.2" y="755.7" width="9.4" height="7.0" fill="#fff" stroke="#555" stroke-width="0.8"/>
<rect x="44.2" y="765.2" width="9.4" height="6.8" fill="#231f20" stroke="#231f20" stroke-width="0.8"/>
<text x="55.70" y="751.60" font-size="8.4" text-anchor="start" font-weight="normal" fill="#231f20" stroke="#231f20" stroke-width="0.22">IFNαβR–/–&#8201;(129)</text>
<text x="56.20" y="761.70" font-size="8.4" text-anchor="start" font-weight="normal" fill="#231f20" stroke="#231f20" stroke-width="0.22">129S7</text>
<text x="55.70" y="771.50" font-size="8.4" text-anchor="start" font-weight="normal" fill="#231f20" stroke="#231f20" stroke-width="0.22">C57BL/6</text>
<polyline points="104.50,763.40 104.50,761.10 155.70,761.10 155.70,763.40" fill="none" stroke="#231f20" stroke-width="0.85"/>
<polyline points="104.50,771.00 104.50,768.70 134.90,768.70 134.90,771.00" fill="none" stroke="#231f20" stroke-width="0.85"/>
<circle cx="127.75" cy="754.10" r="1.25" fill="none" stroke="#666" stroke-width="0.8"/>
<circle cx="131.85" cy="754.10" r="1.25" fill="none" stroke="#666" stroke-width="0.8"/>
<text x="119.70" y="769.63" font-size="8.6" text-anchor="middle" font-weight="bold" fill="#231f20" letter-spacing="0.35">**</text>
<line x1="219.20" y1="745.05" x2="219.20" y2="825.95" stroke="#231f20" stroke-width="0.92" stroke-linecap="butt"/>
<line x1="218.75" y1="825.50" x2="341.80" y2="825.50" stroke="#231f20" stroke-width="0.92" stroke-linecap="butt"/>
<line x1="216.20" y1="825.50" x2="219.20" y2="825.50" stroke="#231f20" stroke-width="0.92" stroke-linecap="butt"/>
<text x="212.80" y="829.00" font-size="9.7" text-anchor="end" font-weight="normal" fill="#231f20" stroke="#231f20" stroke-width="0.22">0</text>
<line x1="216.20" y1="809.50" x2="219.20" y2="809.50" stroke="#231f20" stroke-width="0.92" stroke-linecap="butt"/>
<text x="212.80" y="813.00" font-size="9.7" text-anchor="end" font-weight="normal" fill="#231f20" stroke="#231f20" stroke-width="0.22">20</text>
<line x1="216.20" y1="793.50" x2="219.20" y2="793.50" stroke="#231f20" stroke-width="0.92" stroke-linecap="butt"/>
<text x="212.80" y="797.00" font-size="9.7" text-anchor="end" font-weight="normal" fill="#231f20" stroke="#231f20" stroke-width="0.22">40</text>
<line x1="216.20" y1="777.50" x2="219.20" y2="777.50" stroke="#231f20" stroke-width="0.92" stroke-linecap="butt"/>
<text x="212.80" y="781.00" font-size="9.7" text-anchor="end" font-weight="normal" fill="#231f20" stroke="#231f20" stroke-width="0.22">60</text>
<line x1="216.20" y1="761.50" x2="219.20" y2="761.50" stroke="#231f20" stroke-width="0.92" stroke-linecap="butt"/>
<text x="212.80" y="765.00" font-size="9.7" text-anchor="end" font-weight="normal" fill="#231f20" stroke="#231f20" stroke-width="0.22">80</text>
<line x1="216.20" y1="745.50" x2="219.20" y2="745.50" stroke="#231f20" stroke-width="0.92" stroke-linecap="butt"/>
<text x="212.80" y="749.00" font-size="9.7" text-anchor="end" font-weight="normal" fill="#231f20" stroke="#231f20" stroke-width="0.22">100</text>
<text x="280.50" y="735.80" font-size="9.7" text-anchor="middle" font-weight="normal" fill="#231f20" stroke="#231f20" stroke-width="0.22">IFNβ</text>
<text x="192.70" y="784.00" font-size="9.7" text-anchor="middle" font-weight="normal" fill="#231f20" stroke="#231f20" stroke-width="0.22" transform="rotate(-90 192.70 784.00)">pg ml<tspan font-size="6.8" dy="-4.2">–1</tspan></text>
<line x1="280.50" y1="745.20" x2="280.50" y2="825.50" stroke="#777" stroke-width="1.1" stroke-linecap="butt"/>
<text x="248.00" y="836.20" font-size="9.7" text-anchor="middle" font-weight="normal" fill="#231f20" stroke="#231f20" stroke-width="0.22">Veh ctrl</text>
<text x="310.20" y="836.20" font-size="9.7" text-anchor="middle" font-weight="normal" fill="#231f20" stroke="#231f20" stroke-width="0.22">X31</text>
<text x="281.10" y="849.60" font-size="9.7" text-anchor="middle" font-weight="normal" fill="#231f20" stroke="#231f20" stroke-width="0.22">Treatment</text>
<line x1="229.70" y1="822.60" x2="229.70" y2="823.40" stroke="#231f20" stroke-width="0.88" stroke-linecap="butt"/>
<line x1="226.50" y1="822.60" x2="232.90" y2="822.60" stroke="#231f20" stroke-width="0.88" stroke-linecap="butt"/>
<rect x="222.60" y="823.40" width="14.20" height="2.10" fill="#fff" stroke="#231f20" stroke-width="0.9"/>
<line x1="222.60" y1="823.40" x2="236.80" y2="823.40" stroke="#231f20" stroke-width="1.3" stroke-linecap="butt"/>
<line x1="250.10" y1="820.50" x2="250.10" y2="822.10" stroke="#231f20" stroke-width="0.88" stroke-linecap="butt"/>
<line x1="246.30" y1="820.50" x2="253.90" y2="820.50" stroke="#231f20" stroke-width="0.88" stroke-linecap="butt"/>
<pattern id="ck1" x="243.10" y="822.10" width="6.9" height="6.9" patternUnits="userSpaceOnUse"><rect width="6.9" height="6.9" fill="#fff"/><rect x="3.45" width="3.45" height="3.45" fill="#231f20"/><rect y="3.45" width="3.45" height="3.45" fill="#231f20"/></pattern>
<rect x="243.10" y="822.10" width="14.00" height="3.40" fill="url(#ck1)" stroke="#231f20" stroke-width="0.9"/>
<line x1="263.40" y1="824.60" x2="276.70" y2="824.60" stroke="#999" stroke-width="0.8" stroke-linecap="butt"/>
<line x1="290.35" y1="765.10" x2="290.35" y2="783.50" stroke="#231f20" stroke-width="0.88" stroke-linecap="butt"/>
<line x1="286.15" y1="765.10" x2="294.55" y2="765.10" stroke="#231f20" stroke-width="0.88" stroke-linecap="butt"/>
<rect x="283.70" y="783.50" width="13.30" height="42.00" fill="#fff" stroke="#231f20" stroke-width="0.9"/>
<line x1="290.35" y1="783.50" x2="290.35" y2="801.60" stroke="#231f20" stroke-width="0.88" stroke-linecap="butt"/>
<line x1="286.15" y1="801.60" x2="294.55" y2="801.60" stroke="#231f20" stroke-width="0.88" stroke-linecap="butt"/>
<line x1="310.15" y1="820.90" x2="310.15" y2="822.40" stroke="#231f20" stroke-width="0.88" stroke-linecap="butt"/>
<line x1="306.35" y1="820.90" x2="313.95" y2="820.90" stroke="#231f20" stroke-width="0.88" stroke-linecap="butt"/>
<pattern id="ck2" x="303.20" y="822.40" width="6.9" height="6.9" patternUnits="userSpaceOnUse"><rect width="6.9" height="6.9" fill="#fff"/><rect x="3.45" width="3.45" height="3.45" fill="#231f20"/><rect y="3.45" width="3.45" height="3.45" fill="#231f20"/></pattern>
<rect x="303.20" y="822.40" width="13.90" height="3.10" fill="url(#ck2)" stroke="#231f20" stroke-width="0.9"/>
<line x1="330.15" y1="798.30" x2="330.15" y2="809.20" stroke="#231f20" stroke-width="0.88" stroke-linecap="butt"/>
<line x1="326.55" y1="798.30" x2="333.75" y2="798.30" stroke="#231f20" stroke-width="0.88" stroke-linecap="butt"/>
<rect x="323.50" y="809.20" width="13.30" height="16.30" fill="#231f20" stroke="#231f20" stroke-width="0.9"/>
<polyline points="282.40,753.60 282.40,751.30 332.60,751.30 332.60,753.60" fill="none" stroke="#231f20" stroke-width="0.85"/>
<polyline points="282.40,761.20 282.40,758.90 312.30,758.90 312.30,761.20" fill="none" stroke="#231f20" stroke-width="0.85"/>
<circle cx="305.35" cy="744.30" r="1.25" fill="none" stroke="#666" stroke-width="0.8"/>
<circle cx="309.45" cy="744.30" r="1.25" fill="none" stroke="#666" stroke-width="0.8"/>
<text x="297.50" y="760.33" font-size="8.6" text-anchor="middle" font-weight="bold" fill="#231f20" letter-spacing="0.35">**</text>
<line x1="390.70" y1="745.05" x2="390.70" y2="825.95" stroke="#231f20" stroke-width="0.92" stroke-linecap="butt"/>
<line x1="390.25" y1="825.50" x2="511.80" y2="825.50" stroke="#231f20" stroke-width="0.92" stroke-linecap="butt"/>
<line x1="387.70" y1="825.50" x2="390.70" y2="825.50" stroke="#231f20" stroke-width="0.92" stroke-linecap="butt"/>
<text x="384.30" y="829.00" font-size="9.7" text-anchor="end" font-weight="normal" fill="#231f20" stroke="#231f20" stroke-width="0.22">0</text>
<line x1="387.70" y1="809.50" x2="390.70" y2="809.50" stroke="#231f20" stroke-width="0.92" stroke-linecap="butt"/>
<text x="384.30" y="813.00" font-size="9.7" text-anchor="end" font-weight="normal" fill="#231f20" stroke="#231f20" stroke-width="0.22">50</text>
<line x1="387.70" y1="793.50" x2="390.70" y2="793.50" stroke="#231f20" stroke-width="0.92" stroke-linecap="butt"/>
<text x="384.30" y="797.00" font-size="9.7" text-anchor="end" font-weight="normal" fill="#231f20" stroke="#231f20" stroke-width="0.22">100</text>
<line x1="387.70" y1="777.50" x2="390.70" y2="777.50" stroke="#231f20" stroke-width="0.92" stroke-linecap="butt"/>
<text x="384.30" y="781.00" font-size="9.7" text-anchor="end" font-weight="normal" fill="#231f20" stroke="#231f20" stroke-width="0.22">150</text>
<line x1="387.70" y1="761.50" x2="390.70" y2="761.50" stroke="#231f20" stroke-width="0.92" stroke-linecap="butt"/>
<text x="384.30" y="765.00" font-size="9.7" text-anchor="end" font-weight="normal" fill="#231f20" stroke="#231f20" stroke-width="0.22">200</text>
<line x1="387.70" y1="745.50" x2="390.70" y2="745.50" stroke="#231f20" stroke-width="0.92" stroke-linecap="butt"/>
<text x="384.30" y="749.00" font-size="9.7" text-anchor="end" font-weight="normal" fill="#231f20" stroke="#231f20" stroke-width="0.22">250</text>
<text x="448.70" y="735.80" font-size="9.7" text-anchor="middle" font-weight="normal" fill="#231f20" stroke="#231f20" stroke-width="0.22">IFNλ</text>
<text x="361.75" y="784.00" font-size="9.7" text-anchor="middle" font-weight="normal" fill="#231f20" stroke="#231f20" stroke-width="0.22" transform="rotate(-90 361.75 784.00)">pg ml<tspan font-size="6.8" dy="-4.2">–1</tspan></text>
<line x1="451.80" y1="745.20" x2="451.80" y2="825.50" stroke="#777" stroke-width="1.1" stroke-linecap="butt"/>
<text x="420.80" y="836.20" font-size="9.7" text-anchor="middle" font-weight="normal" fill="#231f20" stroke="#231f20" stroke-width="0.22">Veh ctrl</text>
<text x="482.00" y="836.20" font-size="9.7" text-anchor="middle" font-weight="normal" fill="#231f20" stroke="#231f20" stroke-width="0.22">X31</text>
<text x="449.50" y="849.60" font-size="9.7" text-anchor="middle" font-weight="normal" fill="#231f20" stroke="#231f20" stroke-width="0.22">Treatment</text>
<line x1="401.30" y1="804.40" x2="401.30" y2="811.40" stroke="#231f20" stroke-width="0.88" stroke-linecap="butt"/>
<line x1="397.50" y1="804.40" x2="405.10" y2="804.40" stroke="#231f20" stroke-width="0.88" stroke-linecap="butt"/>
<rect x="394.50" y="811.40" width="13.60" height="14.10" fill="#fff" stroke="#231f20" stroke-width="0.9"/>
<line x1="401.30" y1="811.40" x2="401.30" y2="818.60" stroke="#231f20" stroke-width="0.88" stroke-linecap="butt"/>
<line x1="397.50" y1="818.60" x2="405.10" y2="818.60" stroke="#231f20" stroke-width="0.88" stroke-linecap="butt"/>
<line x1="421.05" y1="816.60" x2="421.05" y2="817.30" stroke="#231f20" stroke-width="0.88" stroke-linecap="butt"/>
<line x1="417.25" y1="816.60" x2="424.85" y2="816.60" stroke="#231f20" stroke-width="0.88" stroke-linecap="butt"/>
<pattern id="ck3" x="414.00" y="817.30" width="6.9" height="6.9" patternUnits="userSpaceOnUse"><rect width="6.9" height="6.9" fill="#fff"/><rect x="3.45" width="3.45" height="3.45" fill="#231f20"/><rect y="3.45" width="3.45" height="3.45" fill="#231f20"/></pattern>
<rect x="414.00" y="817.30" width="14.10" height="8.20" fill="url(#ck3)" stroke="#231f20" stroke-width="0.9"/>
<line x1="441.00" y1="814.40" x2="441.00" y2="815.20" stroke="#231f20" stroke-width="0.88" stroke-linecap="butt"/>
<line x1="437.00" y1="814.40" x2="445.00" y2="814.40" stroke="#231f20" stroke-width="0.88" stroke-linecap="butt"/>
<rect x="434.00" y="815.20" width="14.00" height="10.30" fill="#231f20" stroke="#231f20" stroke-width="0.9"/>
<line x1="461.10" y1="758.00" x2="461.10" y2="758.90" stroke="#231f20" stroke-width="0.88" stroke-linecap="butt"/>
<line x1="456.70" y1="758.00" x2="465.50" y2="758.00" stroke="#231f20" stroke-width="0.88" stroke-linecap="butt"/>
<rect x="454.30" y="758.90" width="13.60" height="66.60" fill="#fff" stroke="#231f20" stroke-width="0.9"/>
<line x1="481.10" y1="808.60" x2="481.10" y2="812.60" stroke="#231f20" stroke-width="0.88" stroke-linecap="butt"/>
<line x1="477.30" y1="808.60" x2="484.90" y2="808.60" stroke="#231f20" stroke-width="0.88" stroke-linecap="butt"/>
<pattern id="ck4" x="474.20" y="812.60" width="6.9" height="6.9" patternUnits="userSpaceOnUse"><rect width="6.9" height="6.9" fill="#fff"/><rect x="3.45" width="3.45" height="3.45" fill="#231f20"/><rect y="3.45" width="3.45" height="3.45" fill="#231f20"/></pattern>
<rect x="474.20" y="812.60" width="13.80" height="12.90" fill="url(#ck4)" stroke="#231f20" stroke-width="0.9"/>
<line x1="501.25" y1="780.30" x2="501.25" y2="797.40" stroke="#231f20" stroke-width="0.88" stroke-linecap="butt"/>
<line x1="497.45" y1="780.30" x2="505.05" y2="780.30" stroke="#231f20" stroke-width="0.88" stroke-linecap="butt"/>
<rect x="494.50" y="797.40" width="13.50" height="28.10" fill="#231f20" stroke="#231f20" stroke-width="0.9"/>
<polyline points="453.30,750.20 453.30,747.90 504.20,747.90 504.20,750.20" fill="none" stroke="#231f20" stroke-width="0.85"/>
<polyline points="453.30,757.90 453.30,755.60 483.70,755.60 483.70,757.90" fill="none" stroke="#231f20" stroke-width="0.85"/>
<circle cx="478.40" cy="740.80" r="1.25" fill="none" stroke="#666" stroke-width="0.8"/>
<text x="467.90" y="756.93" font-size="8.6" text-anchor="middle" font-weight="bold" fill="#231f20" letter-spacing="0.35">*</text>
</svg>
</body></html>
